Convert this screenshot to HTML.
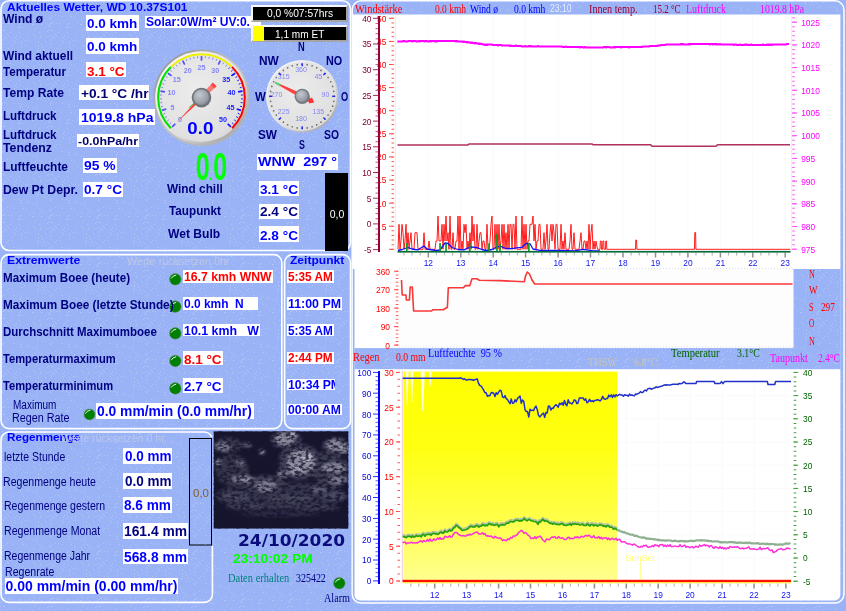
<!DOCTYPE html>
<html><head><meta charset="utf-8"><title>Aktuelles Wetter</title>
<style>
html,body{margin:0;padding:0;}
body{width:846px;height:611px;overflow:hidden;background:#99b3f6;font-family:"Liberation Sans", sans-serif;}
#root{position:relative;width:846px;height:611px;overflow:hidden;}
#root svg{position:absolute;left:0;top:0;}
#root svg text{font-family:"Liberation Sans", sans-serif;}
.t{position:absolute;white-space:nowrap;line-height:1;font-weight:bold;transform-origin:0 0;display:block;}
.b{position:absolute;}
.sf{font-family:"Liberation Serif", serif;}
.dj{font-family:"DejaVu Sans", "Liberation Sans", sans-serif;}
</style></head><body>
<div id="root">
<svg width="846" height="611" viewBox="0 0 846 611">
<defs><pattern id="dots" width="48" height="48" patternUnits="userSpaceOnUse"><rect x="15" y="37" width="1" height="1" fill="#aec6f2"/><rect x="23" y="38" width="1" height="1" fill="#a9c4f0"/><rect x="40" y="37" width="1" height="1" fill="#b3c3f5"/><rect x="38" y="0" width="1" height="1" fill="#a9c4f0"/><rect x="16" y="35" width="1" height="1" fill="#aec6f2"/><rect x="12" y="45" width="1" height="1" fill="#a9c4f0"/><rect x="34" y="35" width="1" height="1" fill="#a9c4f0"/><rect x="25" y="40" width="1" height="1" fill="#aec6f2"/><rect x="14" y="40" width="1" height="1" fill="#aec6f2"/><rect x="33" y="24" width="1" height="1" fill="#b3c3f5"/><rect x="42" y="4" width="1" height="1" fill="#aec6f2"/><rect x="37" y="2" width="1" height="1" fill="#b6c5f5"/><rect x="1" y="17" width="1" height="1" fill="#a9c4f0"/><rect x="38" y="46" width="1" height="1" fill="#a9c4f0"/><rect x="45" y="27" width="1" height="1" fill="#a9c4f0"/><rect x="46" y="36" width="1" height="1" fill="#a9c4f0"/><rect x="8" y="23" width="1" height="1" fill="#b3c3f5"/><rect x="2" y="8" width="1" height="1" fill="#a9c4f0"/><rect x="13" y="16" width="1" height="1" fill="#a9c4f0"/><rect x="40" y="19" width="1" height="1" fill="#a9c4f0"/><rect x="32" y="24" width="1" height="1" fill="#b6c5f5"/><rect x="34" y="37" width="1" height="1" fill="#a9c4f0"/><rect x="37" y="14" width="1" height="1" fill="#b6c5f5"/><rect x="43" y="1" width="1" height="1" fill="#b6c5f5"/><rect x="38" y="42" width="1" height="1" fill="#aec6f2"/><rect x="44" y="20" width="1" height="1" fill="#b3c3f5"/><rect x="45" y="41" width="1" height="1" fill="#aec6f2"/><rect x="40" y="36" width="1" height="1" fill="#b6c5f5"/><rect x="18" y="7" width="1" height="1" fill="#b3c3f5"/><rect x="30" y="40" width="1" height="1" fill="#a9c4f0"/><rect x="5" y="22" width="1" height="1" fill="#b3c3f5"/><rect x="26" y="9" width="1" height="1" fill="#b3c3f5"/><rect x="18" y="27" width="1" height="1" fill="#a9c4f0"/><rect x="7" y="2" width="1" height="1" fill="#b3c3f5"/><rect x="24" y="45" width="1" height="1" fill="#b6c5f5"/><rect x="35" y="17" width="1" height="1" fill="#aec6f2"/><rect x="2" y="19" width="1" height="1" fill="#b3c3f5"/><rect x="4" y="6" width="1" height="1" fill="#b3c3f5"/><rect x="12" y="26" width="1" height="1" fill="#b6c5f5"/><rect x="39" y="16" width="1" height="1" fill="#aec6f2"/><rect x="44" y="2" width="1" height="1" fill="#b6c5f5"/><rect x="20" y="23" width="1" height="1" fill="#aec6f2"/><rect x="24" y="24" width="1" height="1" fill="#a9c4f0"/><rect x="33" y="24" width="1" height="1" fill="#b3c3f5"/><rect x="39" y="32" width="1" height="1" fill="#b6c5f5"/><rect x="27" y="40" width="1" height="1" fill="#aec6f2"/><rect x="19" y="27" width="1" height="1" fill="#b6c5f5"/><rect x="33" y="19" width="1" height="1" fill="#b6c5f5"/><rect x="0" y="26" width="1" height="1" fill="#b6c5f5"/><rect x="1" y="24" width="1" height="1" fill="#aec6f2"/><rect x="3" y="40" width="1" height="1" fill="#b6c5f5"/><rect x="29" y="22" width="1" height="1" fill="#b6c5f5"/><rect x="38" y="45" width="1" height="1" fill="#b6c5f5"/><rect x="47" y="31" width="1" height="1" fill="#b3c3f5"/><rect x="37" y="3" width="1" height="1" fill="#b3c3f5"/><rect x="23" y="16" width="1" height="1" fill="#a9c4f0"/><rect x="19" y="37" width="1" height="1" fill="#b6c5f5"/><rect x="11" y="23" width="1" height="1" fill="#aec6f2"/><rect x="20" y="23" width="1" height="1" fill="#b6c5f5"/><rect x="19" y="24" width="1" height="1" fill="#b3c3f5"/><rect x="1" y="36" width="1" height="1" fill="#aec6f2"/><rect x="19" y="32" width="1" height="1" fill="#aec6f2"/><rect x="41" y="17" width="1" height="1" fill="#aec6f2"/><rect x="20" y="11" width="1" height="1" fill="#a9c4f0"/><rect x="41" y="44" width="1" height="1" fill="#b3c3f5"/><rect x="6" y="38" width="1" height="1" fill="#b6c5f5"/><rect x="21" y="43" width="1" height="1" fill="#aec6f2"/><rect x="28" y="10" width="1" height="1" fill="#b3c3f5"/><rect x="21" y="47" width="1" height="1" fill="#aec6f2"/><rect x="36" y="28" width="1" height="1" fill="#b6c5f5"/><rect x="14" y="7" width="1" height="1" fill="#b3c3f5"/><rect x="33" y="12" width="1" height="1" fill="#b6c5f5"/><rect x="36" y="11" width="1" height="1" fill="#b6c5f5"/><rect x="21" y="41" width="1" height="1" fill="#b3c3f5"/><rect x="39" y="22" width="1" height="1" fill="#aec6f2"/><rect x="26" y="18" width="1" height="1" fill="#b6c5f5"/><rect x="29" y="22" width="1" height="1" fill="#a9c4f0"/><rect x="18" y="26" width="1" height="1" fill="#a9c4f0"/><rect x="2" y="26" width="1" height="1" fill="#aec6f2"/><rect x="12" y="0" width="1" height="1" fill="#a9c4f0"/><rect x="39" y="32" width="1" height="1" fill="#a9c4f0"/><rect x="35" y="45" width="1" height="1" fill="#aec6f2"/><rect x="2" y="47" width="1" height="1" fill="#a9c4f0"/><rect x="42" y="47" width="1" height="1" fill="#b6c5f5"/><rect x="34" y="21" width="1" height="1" fill="#aec6f2"/><rect x="4" y="37" width="1" height="1" fill="#b6c5f5"/><rect x="7" y="15" width="1" height="1" fill="#b3c3f5"/><rect x="2" y="44" width="1" height="1" fill="#aec6f2"/><rect x="27" y="36" width="1" height="1" fill="#b3c3f5"/><rect x="0" y="30" width="1" height="1" fill="#b3c3f5"/><rect x="10" y="32" width="1" height="1" fill="#b6c5f5"/><rect x="15" y="42" width="1" height="1" fill="#b3c3f5"/><rect x="33" y="34" width="1" height="1" fill="#a9c4f0"/><rect x="3" y="39" width="1" height="1" fill="#b3c3f5"/><rect x="21" y="8" width="1" height="1" fill="#b6c5f5"/><rect x="34" y="30" width="1" height="1" fill="#b3c3f5"/><rect x="22" y="14" width="1" height="1" fill="#aec6f2"/><rect x="7" y="34" width="1" height="1" fill="#b3c3f5"/><rect x="10" y="15" width="1" height="1" fill="#b6c5f5"/><rect x="8" y="0" width="1" height="1" fill="#a9c4f0"/><rect x="40" y="36" width="1" height="1" fill="#a9c4f0"/><rect x="3" y="17" width="1" height="1" fill="#aec6f2"/><rect x="17" y="39" width="1" height="1" fill="#a9c4f0"/><rect x="3" y="30" width="1" height="1" fill="#b6c5f5"/><rect x="0" y="3" width="1" height="1" fill="#aec6f2"/><rect x="2" y="7" width="1" height="1" fill="#b3c3f5"/><rect x="4" y="30" width="1" height="1" fill="#b3c3f5"/><rect x="45" y="5" width="1" height="1" fill="#a9c4f0"/><rect x="20" y="10" width="1" height="1" fill="#b6c5f5"/><rect x="4" y="22" width="1" height="1" fill="#a9c4f0"/><rect x="41" y="24" width="1" height="1" fill="#b6c5f5"/><rect x="23" y="16" width="1" height="1" fill="#aec6f2"/><rect x="21" y="27" width="1" height="1" fill="#b3c3f5"/><rect x="8" y="35" width="1" height="1" fill="#b3c3f5"/><rect x="45" y="46" width="1" height="1" fill="#a9c4f0"/><rect x="5" y="36" width="1" height="1" fill="#aec6f2"/><rect x="2" y="23" width="1" height="1" fill="#a9c4f0"/><rect x="38" y="41" width="1" height="1" fill="#a9c4f0"/><rect x="40" y="2" width="1" height="1" fill="#a9c4f0"/><rect x="3" y="23" width="1" height="1" fill="#a9c4f0"/></pattern>
<radialGradient id="bez" cx="35%" cy="30%" r="80%"><stop offset="0" stop-color="#f4f4f4"/><stop offset="0.6" stop-color="#c8c8c8"/><stop offset="1" stop-color="#8c8c8c"/></radialGradient>
<radialGradient id="face" cx="42%" cy="40%" r="75%"><stop offset="0" stop-color="#ececec"/><stop offset="0.75" stop-color="#e0e0e0"/><stop offset="1" stop-color="#cecece"/></radialGradient>
<radialGradient id="hub" cx="40%" cy="35%" r="70%"><stop offset="0" stop-color="#c8ccd0"/><stop offset="0.6" stop-color="#8a8e92"/><stop offset="1" stop-color="#5c6064"/></radialGradient>
<radialGradient id="hub2" cx="40%" cy="35%" r="75%"><stop offset="0" stop-color="#c4c8d0"/><stop offset="0.7" stop-color="#9a9ea6"/><stop offset="1" stop-color="#7c8088"/></radialGradient>
<linearGradient id="bez1" x1="0.15" y1="0.1" x2="0.85" y2="0.9"><stop offset="0" stop-color="#9a9a9a"/><stop offset="0.5" stop-color="#c4c4c4"/><stop offset="1" stop-color="#b0b0b0"/></linearGradient>
<linearGradient id="bez2" x1="0.15" y1="0.1" x2="0.85" y2="0.9"><stop offset="0" stop-color="#f6f6f6"/><stop offset="0.6" stop-color="#e0e0e0"/><stop offset="1" stop-color="#a8a8a8"/></linearGradient>
<radialGradient id="led" cx="40%" cy="35%" r="70%"><stop offset="0" stop-color="#109010"/><stop offset="1" stop-color="#007800"/></radialGradient>
<linearGradient id="yel" x1="0" y1="0" x2="0" y2="1"><stop offset="0" stop-color="#ffff00"/><stop offset="0.35" stop-color="#ffff10"/><stop offset="0.7" stop-color="#ffff48"/><stop offset="1" stop-color="#ffff90"/></linearGradient>
<filter id="cl" x="0" y="0" width="100%" height="100%" color-interpolation-filters="sRGB"><feTurbulence type="fractalNoise" baseFrequency="0.22 0.35" numOctaves="2" seed="11"/><feColorMatrix type="matrix" values="0 0 0 0 0.09  0 0 0 0 0.08  0 0 0 0 0.18  4 0 0 0 -1.7"/></filter>
<filter id="blur" x="-20%" y="-20%" width="140%" height="140%"><feGaussianBlur stdDeviation="1.6"/></filter>
</defs>
<rect x="0" y="0" width="846" height="611" fill="#8ea8ee"/>
<rect x="0" y="0" width="846" height="611" fill="#99b3f6"/>
<rect x="0" y="0" width="846" height="611" fill="url(#dots)"/>
<rect x="1" y="0.8" width="349.5" height="249.7" rx="8" ry="8" fill="none" stroke="#fff" stroke-width="1.6"/>
<rect x="1" y="254.6" width="280.8" height="174.00000000000003" rx="8" ry="8" fill="none" stroke="#fff" stroke-width="1.6"/>
<rect x="284.6" y="254.6" width="65.89999999999998" height="174.00000000000003" rx="8" ry="8" fill="none" stroke="#fff" stroke-width="1.6"/>
<rect x="1" y="432" width="211.4" height="170.39999999999998" rx="8" ry="8" fill="none" stroke="#fff" stroke-width="1.6"/>
<rect x="352.2" y="0.8" width="491.8" height="602.3" rx="9" ry="9" fill="none" stroke="#fff" stroke-width="1.5"/>
<path d="M352.6 14.4 H840.4 V594.5 a6 6 0 0 1 -6 6 H360.4 a6 6 0 0 1 -6 -6 V269 H352.6 Z" fill="#fff"/>
<rect x="352.9" y="269" width="1.3" height="325" fill="#99b3f6"/>
<rect x="793.2" y="269" width="47.4" height="80" fill="#99b3f6"/>
<rect x="354.4" y="348.1" width="486.2" height="21.1" fill="#99b3f6"/>
<rect x="354.4" y="348.1" width="486.2" height="21.1" fill="url(#dots)"/>
<rect x="793.2" y="269" width="47.4" height="80" fill="url(#dots)"/>
<circle cx="175.3" cy="279.3" r="5.8" fill="#008000" stroke="#6a8a6a" stroke-width="0.5"/>
<path d="M171.4 278.1 q1 -2.4 4.4 -3" fill="none" stroke="#fff" stroke-width="0.9" stroke-linecap="round"/>
<circle cx="175.3" cy="306.6" r="5.8" fill="#008000" stroke="#6a8a6a" stroke-width="0.5"/>
<path d="M171.4 305.4 q1 -2.4 4.4 -3" fill="none" stroke="#fff" stroke-width="0.9" stroke-linecap="round"/>
<circle cx="175.3" cy="333.4" r="5.8" fill="#008000" stroke="#6a8a6a" stroke-width="0.5"/>
<path d="M171.4 332.2 q1 -2.4 4.4 -3" fill="none" stroke="#fff" stroke-width="0.9" stroke-linecap="round"/>
<circle cx="175.3" cy="361" r="5.8" fill="#008000" stroke="#6a8a6a" stroke-width="0.5"/>
<path d="M171.4 359.8 q1 -2.4 4.4 -3" fill="none" stroke="#fff" stroke-width="0.9" stroke-linecap="round"/>
<circle cx="175.3" cy="388.4" r="5.8" fill="#008000" stroke="#6a8a6a" stroke-width="0.5"/>
<path d="M171.4 387.2 q1 -2.4 4.4 -3" fill="none" stroke="#fff" stroke-width="0.9" stroke-linecap="round"/>
<circle cx="89.5" cy="414.4" r="5.5" fill="#008000" stroke="#6a8a6a" stroke-width="0.5"/>
<path d="M85.6 413.2 q1 -2.4 4.4 -3" fill="none" stroke="#fff" stroke-width="0.9" stroke-linecap="round"/>
<circle cx="339.3" cy="583.2" r="5.8" fill="#008000" stroke="#6a8a6a" stroke-width="0.5"/>
<path d="M335.4 582.0 q1 -2.4 4.4 -3" fill="none" stroke="#fff" stroke-width="0.9" stroke-linecap="round"/>
<rect x="211" y="437" width="2.6" height="109" fill="#99b3f6"/>
<rect x="189.5" y="438.5" width="22" height="106.5" fill="#99b3f6" stroke="#000" stroke-width="1"/>
<rect x="190" y="439" width="21" height="105.5" fill="url(#dots)"/>
<clipPath id="ccl"><rect x="213.5" y="431.2" width="135" height="97.5"/></clipPath>
<g clip-path="url(#ccl)">
<rect x="213.5" y="431.2" width="135" height="97.5" fill="#17152e"/>
<g filter="url(#blur)">
<ellipse cx="281" cy="496" rx="66" ry="14" fill="#35354e"/>
<ellipse cx="232" cy="470" rx="17" ry="16" fill="#34344c"/>
<ellipse cx="330" cy="470" rx="18" ry="20" fill="#3a3a52"/>
<ellipse cx="300" cy="462" rx="22" ry="18" fill="#3c3c54"/>
<ellipse cx="228" cy="445" rx="14" ry="8" fill="#36364e"/>
<ellipse cx="286" cy="440" rx="16" ry="9" fill="#3a3a52"/>
<ellipse cx="336" cy="446" rx="14" ry="9" fill="#3a3a52"/>
<ellipse cx="265" cy="484" rx="20" ry="9" fill="#3e3e56"/>
<ellipse cx="284.8" cy="439" rx="10" ry="6.5" fill="#8a8a9c"/>
<ellipse cx="292" cy="434.5" rx="5" ry="3" fill="#b0b0c0"/>
<ellipse cx="335.8" cy="445" rx="9.5" ry="6" fill="#85859a"/>
<ellipse cx="344" cy="449" rx="4" ry="4" fill="#a0a0b0"/>
<ellipse cx="301" cy="462" rx="14" ry="12" fill="#8c8c9e"/>
<ellipse cx="307" cy="458" rx="6" ry="5" fill="#b4b4c4"/>
<ellipse cx="296" cy="470" rx="7" ry="5" fill="#9a9aac"/>
<ellipse cx="223" cy="447" rx="8" ry="4.5" fill="#77778c"/>
<ellipse cx="218" cy="462" rx="3" ry="3" fill="#9090a4"/>
<ellipse cx="243" cy="479" rx="11" ry="3.5" fill="#8a8a9e"/>
<ellipse cx="266" cy="486" rx="11" ry="6" fill="#7c7c90"/>
<ellipse cx="283" cy="474" rx="6" ry="4" fill="#7a7a90"/>
<ellipse cx="334" cy="468" rx="12" ry="5" fill="#8a8a9e"/>
<ellipse cx="338" cy="480" rx="10" ry="4" fill="#77778c"/>
<ellipse cx="240" cy="463" rx="4" ry="2.5" fill="#707088"/>
<ellipse cx="262" cy="452" rx="3" ry="2.5" fill="#8a8aa0"/>
<ellipse cx="247" cy="445" rx="5" ry="3" fill="#555570"/>
<ellipse cx="318" cy="490" rx="9" ry="3" fill="#5c5c74"/>
<ellipse cx="236" cy="497" rx="14" ry="4" fill="#4a4a62"/>
<ellipse cx="290" cy="499" rx="22" ry="4" fill="#44445c"/>
<ellipse cx="335" cy="496" rx="12" ry="4" fill="#4c4c64"/>
<ellipse cx="250" cy="507" rx="25" ry="3" fill="#3c3c54"/>
<ellipse cx="315" cy="508" rx="25" ry="3" fill="#3a3a52"/>
<ellipse cx="280" cy="514" rx="40" ry="2.5" fill="#2e2e48"/>
</g>
<rect x="213.5" y="431.2" width="135" height="97.5" filter="url(#cl)" opacity="0.8"/>
</g>
<circle cx="201.5" cy="97.6" r="48.2" fill="url(#bez1)"/>
<circle cx="201.5" cy="97.6" r="46.3" fill="url(#bez2)"/>
<circle cx="201.5" cy="97.6" r="44.3" fill="url(#face)"/>
<path d="M170.88 128.22 A43.3 43.3 0 0 1 170.98 66.89" fill="none" stroke="#00e000" stroke-width="2"/>
<path d="M170.98 66.89 A43.3 43.3 0 0 1 232.02 66.89" fill="none" stroke="#f0f000" stroke-width="2"/>
<path d="M232.02 66.89 A43.3 43.3 0 0 1 232.12 128.22" fill="none" stroke="#ff0000" stroke-width="2"/>
<line x1="172.16" y1="126.94" x2="175.34" y2="123.76" stroke="#1010ff" stroke-width="1.7" opacity="0.7"/>
<line x1="169.52" y1="124.05" x2="171.06" y2="122.78" stroke="#1010ff" stroke-width="1" opacity="0.45"/>
<line x1="167.18" y1="120.93" x2="168.83" y2="119.80" stroke="#1010ff" stroke-width="1" opacity="0.45"/>
<line x1="165.13" y1="117.59" x2="166.89" y2="116.63" stroke="#1010ff" stroke-width="1" opacity="0.45"/>
<line x1="163.41" y1="114.08" x2="165.25" y2="113.29" stroke="#1010ff" stroke-width="1" opacity="0.45"/>
<line x1="162.03" y1="110.42" x2="166.31" y2="109.03" stroke="#1010ff" stroke-width="1.7" opacity="0.7"/>
<line x1="161.00" y1="106.65" x2="162.95" y2="106.22" stroke="#1010ff" stroke-width="1" opacity="0.45"/>
<line x1="160.33" y1="102.80" x2="162.31" y2="102.55" stroke="#1010ff" stroke-width="1" opacity="0.45"/>
<line x1="160.02" y1="98.90" x2="162.02" y2="98.84" stroke="#1010ff" stroke-width="1" opacity="0.45"/>
<line x1="160.08" y1="94.99" x2="162.08" y2="95.12" stroke="#1010ff" stroke-width="1" opacity="0.45"/>
<line x1="160.51" y1="91.11" x2="164.96" y2="91.81" stroke="#1010ff" stroke-width="1.7" opacity="0.7"/>
<line x1="161.30" y1="87.28" x2="163.24" y2="87.78" stroke="#1010ff" stroke-width="1" opacity="0.45"/>
<line x1="162.45" y1="83.54" x2="164.34" y2="84.22" stroke="#1010ff" stroke-width="1" opacity="0.45"/>
<line x1="163.95" y1="79.93" x2="165.76" y2="80.78" stroke="#1010ff" stroke-width="1" opacity="0.45"/>
<line x1="165.78" y1="76.47" x2="167.50" y2="77.49" stroke="#1010ff" stroke-width="1" opacity="0.45"/>
<line x1="167.93" y1="73.21" x2="171.57" y2="75.85" stroke="#1010ff" stroke-width="1.7" opacity="0.7"/>
<line x1="170.37" y1="70.16" x2="171.87" y2="71.48" stroke="#1010ff" stroke-width="1" opacity="0.45"/>
<line x1="173.09" y1="67.35" x2="174.46" y2="68.81" stroke="#1010ff" stroke-width="1" opacity="0.45"/>
<line x1="176.06" y1="64.81" x2="177.29" y2="66.39" stroke="#1010ff" stroke-width="1" opacity="0.45"/>
<line x1="179.26" y1="62.56" x2="180.33" y2="64.25" stroke="#1010ff" stroke-width="1" opacity="0.45"/>
<line x1="182.66" y1="60.62" x2="184.70" y2="64.63" stroke="#1010ff" stroke-width="1.7" opacity="0.7"/>
<line x1="186.22" y1="59.01" x2="186.96" y2="60.87" stroke="#1010ff" stroke-width="1" opacity="0.45"/>
<line x1="189.92" y1="57.75" x2="190.48" y2="59.67" stroke="#1010ff" stroke-width="1" opacity="0.45"/>
<line x1="193.72" y1="56.84" x2="194.10" y2="58.80" stroke="#1010ff" stroke-width="1" opacity="0.45"/>
<line x1="197.59" y1="56.28" x2="197.78" y2="58.28" stroke="#1010ff" stroke-width="1" opacity="0.45"/>
<line x1="201.50" y1="56.10" x2="201.50" y2="60.60" stroke="#1010ff" stroke-width="1.7" opacity="0.7"/>
<line x1="205.41" y1="56.28" x2="205.22" y2="58.28" stroke="#1010ff" stroke-width="1" opacity="0.45"/>
<line x1="209.28" y1="56.84" x2="208.90" y2="58.80" stroke="#1010ff" stroke-width="1" opacity="0.45"/>
<line x1="213.08" y1="57.75" x2="212.52" y2="59.67" stroke="#1010ff" stroke-width="1" opacity="0.45"/>
<line x1="216.78" y1="59.01" x2="216.04" y2="60.87" stroke="#1010ff" stroke-width="1" opacity="0.45"/>
<line x1="220.34" y1="60.62" x2="218.30" y2="64.63" stroke="#1010ff" stroke-width="1.7" opacity="0.7"/>
<line x1="223.74" y1="62.56" x2="222.67" y2="64.25" stroke="#1010ff" stroke-width="1" opacity="0.45"/>
<line x1="226.94" y1="64.81" x2="225.71" y2="66.39" stroke="#1010ff" stroke-width="1" opacity="0.45"/>
<line x1="229.91" y1="67.35" x2="228.54" y2="68.81" stroke="#1010ff" stroke-width="1" opacity="0.95"/>
<line x1="232.63" y1="70.16" x2="231.13" y2="71.48" stroke="#1010ff" stroke-width="1" opacity="0.95"/>
<line x1="235.07" y1="73.21" x2="231.43" y2="75.85" stroke="#1010ff" stroke-width="1.7" opacity="1"/>
<line x1="237.22" y1="76.47" x2="235.50" y2="77.49" stroke="#1010ff" stroke-width="1" opacity="0.95"/>
<line x1="239.05" y1="79.93" x2="237.24" y2="80.78" stroke="#1010ff" stroke-width="1" opacity="0.95"/>
<line x1="240.55" y1="83.54" x2="238.66" y2="84.22" stroke="#1010ff" stroke-width="1" opacity="0.95"/>
<line x1="241.70" y1="87.28" x2="239.76" y2="87.78" stroke="#1010ff" stroke-width="1" opacity="0.95"/>
<line x1="242.49" y1="91.11" x2="238.04" y2="91.81" stroke="#1010ff" stroke-width="1.7" opacity="1"/>
<line x1="242.92" y1="94.99" x2="240.92" y2="95.12" stroke="#1010ff" stroke-width="1" opacity="0.95"/>
<line x1="242.98" y1="98.90" x2="240.98" y2="98.84" stroke="#1010ff" stroke-width="1" opacity="0.95"/>
<line x1="242.67" y1="102.80" x2="240.69" y2="102.55" stroke="#1010ff" stroke-width="1" opacity="0.95"/>
<line x1="242.00" y1="106.65" x2="240.05" y2="106.22" stroke="#1010ff" stroke-width="1" opacity="0.95"/>
<line x1="240.97" y1="110.42" x2="236.69" y2="109.03" stroke="#1010ff" stroke-width="1.7" opacity="1"/>
<line x1="239.59" y1="114.08" x2="237.75" y2="113.29" stroke="#1010ff" stroke-width="1" opacity="0.95"/>
<line x1="237.87" y1="117.59" x2="236.11" y2="116.63" stroke="#1010ff" stroke-width="1" opacity="0.95"/>
<line x1="235.82" y1="120.93" x2="234.17" y2="119.80" stroke="#1010ff" stroke-width="1" opacity="0.95"/>
<line x1="233.48" y1="124.05" x2="231.94" y2="122.78" stroke="#1010ff" stroke-width="1" opacity="0.95"/>
<line x1="230.84" y1="126.94" x2="227.66" y2="123.76" stroke="#1010ff" stroke-width="1.7" opacity="1"/>
<text x="179.9" y="121.7" font-size="7.2" font-weight="bold" fill="#2020ff" opacity="0.5" text-anchor="middle">0</text>
<text x="172.5" y="109.5" font-size="7.2" font-weight="bold" fill="#2020ff" opacity="0.5" text-anchor="middle">5</text>
<text x="171.4" y="95.3" font-size="7.2" font-weight="bold" fill="#2020ff" opacity="0.5" text-anchor="middle">10</text>
<text x="176.8" y="82.2" font-size="7.2" font-weight="bold" fill="#2020ff" opacity="0.5" text-anchor="middle">15</text>
<text x="187.7" y="72.9" font-size="7.2" font-weight="bold" fill="#2020ff" opacity="0.5" text-anchor="middle">20</text>
<text x="201.5" y="69.6" font-size="7.2" font-weight="bold" fill="#2020ff" opacity="0.5" text-anchor="middle">25</text>
<text x="215.3" y="72.9" font-size="7.2" font-weight="bold" fill="#2020ff" opacity="0.5" text-anchor="middle">30</text>
<text x="226.2" y="82.2" font-size="7.2" font-weight="bold" fill="#2020ff" opacity="1" text-anchor="middle">35</text>
<text x="231.6" y="95.3" font-size="7.2" font-weight="bold" fill="#2020ff" opacity="1" text-anchor="middle">40</text>
<text x="230.5" y="109.5" font-size="7.2" font-weight="bold" fill="#2020ff" opacity="1" text-anchor="middle">45</text>
<text x="223.1" y="121.7" font-size="7.2" font-weight="bold" fill="#2020ff" opacity="1" text-anchor="middle">50</text>
<polygon points="177.10,122.00 200.44,96.54 202.56,98.66" fill="#ff3a3a"/>
<polygon points="199.87,95.97 212.81,82.75 216.35,86.29 203.13,99.23" fill="#ff7878"/>
<polygon points="210.69,84.87 212.96,82.47 216.63,86.14 214.23,88.41" fill="#ff4848"/>
<line x1="194.00" y1="102.83" x2="189.05" y2="107.78" stroke="#30c030" stroke-width="1"/>
<circle cx="201.5" cy="97.6" r="9.8" fill="#70747a"/>
<circle cx="201.2" cy="97.3" r="7.8" fill="url(#hub2)"/>
<text x="200.3" y="134.2" font-size="17" font-weight="bold" fill="#0000ff" text-anchor="middle" textLength="26" lengthAdjust="spacingAndGlyphs">0.0</text>
<circle cx="302.2" cy="96.3" r="36.2" fill="url(#bez2)"/>
<circle cx="302.2" cy="96.3" r="34.6" fill="url(#face)"/>
<circle cx="302.20" cy="64.30" r="0.85" fill="#6c6c6c"/>
<circle cx="307.21" cy="64.69" r="0.85" fill="#6c6c6c"/>
<circle cx="312.09" cy="65.87" r="0.85" fill="#6c6c6c"/>
<circle cx="316.73" cy="67.79" r="0.85" fill="#6c6c6c"/>
<circle cx="321.01" cy="70.41" r="0.85" fill="#6c6c6c"/>
<circle cx="324.83" cy="73.67" r="0.85" fill="#6c6c6c"/>
<circle cx="328.09" cy="77.49" r="0.85" fill="#6c6c6c"/>
<circle cx="330.71" cy="81.77" r="0.85" fill="#6c6c6c"/>
<circle cx="332.63" cy="86.41" r="0.85" fill="#6c6c6c"/>
<circle cx="333.81" cy="91.29" r="0.85" fill="#6c6c6c"/>
<circle cx="334.20" cy="96.30" r="0.85" fill="#6c6c6c"/>
<circle cx="333.81" cy="101.31" r="0.85" fill="#6c6c6c"/>
<circle cx="332.63" cy="106.19" r="0.85" fill="#6c6c6c"/>
<circle cx="330.71" cy="110.83" r="0.85" fill="#6c6c6c"/>
<circle cx="328.09" cy="115.11" r="0.85" fill="#6c6c6c"/>
<circle cx="324.83" cy="118.93" r="0.85" fill="#6c6c6c"/>
<circle cx="321.01" cy="122.19" r="0.85" fill="#6c6c6c"/>
<circle cx="316.73" cy="124.81" r="0.85" fill="#6c6c6c"/>
<circle cx="312.09" cy="126.73" r="0.85" fill="#6c6c6c"/>
<circle cx="307.21" cy="127.91" r="0.85" fill="#6c6c6c"/>
<circle cx="302.20" cy="128.30" r="0.85" fill="#6c6c6c"/>
<circle cx="297.19" cy="127.91" r="0.85" fill="#6c6c6c"/>
<circle cx="292.31" cy="126.73" r="0.85" fill="#6c6c6c"/>
<circle cx="287.67" cy="124.81" r="0.85" fill="#6c6c6c"/>
<circle cx="283.39" cy="122.19" r="0.85" fill="#6c6c6c"/>
<circle cx="279.57" cy="118.93" r="0.85" fill="#6c6c6c"/>
<circle cx="276.31" cy="115.11" r="0.85" fill="#6c6c6c"/>
<circle cx="273.69" cy="110.83" r="0.85" fill="#6c6c6c"/>
<circle cx="271.77" cy="106.19" r="0.85" fill="#6c6c6c"/>
<circle cx="270.59" cy="101.31" r="0.85" fill="#6c6c6c"/>
<circle cx="270.20" cy="96.30" r="0.85" fill="#6c6c6c"/>
<circle cx="270.59" cy="91.29" r="0.85" fill="#6c6c6c"/>
<circle cx="271.77" cy="86.41" r="0.85" fill="#6c6c6c"/>
<circle cx="273.69" cy="81.77" r="0.85" fill="#6c6c6c"/>
<circle cx="276.31" cy="77.49" r="0.85" fill="#6c6c6c"/>
<circle cx="279.57" cy="73.67" r="0.85" fill="#6c6c6c"/>
<circle cx="283.39" cy="70.41" r="0.85" fill="#6c6c6c"/>
<circle cx="287.67" cy="67.79" r="0.85" fill="#6c6c6c"/>
<circle cx="292.31" cy="65.87" r="0.85" fill="#6c6c6c"/>
<circle cx="297.19" cy="64.69" r="0.85" fill="#6c6c6c"/>
<line x1="302.20" y1="63.30" x2="302.20" y2="66.30" stroke="#2020ff" stroke-width="1.4"/>
<text x="301.0" y="72.2" font-size="7" fill="#3030ff" opacity="0.55" text-anchor="middle">360</text>
<line x1="325.53" y1="72.97" x2="323.41" y2="75.09" stroke="#2020ff" stroke-width="1.4"/>
<text x="318.3" y="79.4" font-size="7" fill="#3030ff" opacity="0.55" text-anchor="middle">45</text>
<line x1="335.20" y1="96.30" x2="332.20" y2="96.30" stroke="#2020ff" stroke-width="1.4"/>
<text x="325.5" y="96.7" font-size="7" fill="#3030ff" opacity="0.55" text-anchor="middle">90</text>
<line x1="325.53" y1="119.63" x2="323.41" y2="117.51" stroke="#2020ff" stroke-width="1.4"/>
<text x="318.3" y="114.0" font-size="7" fill="#3030ff" opacity="0.55" text-anchor="middle">135</text>
<line x1="302.20" y1="129.30" x2="302.20" y2="126.30" stroke="#2020ff" stroke-width="1.4"/>
<text x="301.0" y="121.2" font-size="7" fill="#3030ff" opacity="0.55" text-anchor="middle">180</text>
<line x1="278.87" y1="119.63" x2="280.99" y2="117.51" stroke="#2020ff" stroke-width="1.4"/>
<text x="283.7" y="114.0" font-size="7" fill="#3030ff" opacity="0.55" text-anchor="middle">225</text>
<line x1="269.20" y1="96.30" x2="272.20" y2="96.30" stroke="#2020ff" stroke-width="1.4"/>
<text x="276.5" y="96.7" font-size="7" fill="#3030ff" opacity="0.55" text-anchor="middle">270</text>
<line x1="278.87" y1="72.97" x2="280.99" y2="75.09" stroke="#2020ff" stroke-width="1.4"/>
<text x="283.7" y="79.4" font-size="7" fill="#3030ff" opacity="0.55" text-anchor="middle">315</text>
<polygon points="279.44,83.69 278.63,85.30 301.20,98.26 303.20,94.34" fill="#ff4040"/>
<polygon points="275.43,81.65 274.62,83.26 279.87,86.16 280.87,84.20" fill="#50d068"/>
<polygon points="303.11,94.52 311.13,98.60 311.85,97.18 314.23,102.43 308.58,103.59 309.31,102.17 301.29,98.08" fill="#ff3030"/>
<circle cx="302.2" cy="96.3" r="7.6" fill="#767a80"/>
<circle cx="301.9" cy="96.0" r="6" fill="url(#hub2)"/>
<text y="0" font-size="25" font-weight="bold" fill="#00ff00" transform="translate(0,180.2) scale(1,1.53)"><tspan x="195.8">0</tspan><tspan x="209.2" font-size="11">.</tspan><tspan x="213.2" font-size="25">0</tspan></text>
<line x1="428.3" y1="16" x2="428.3" y2="252" stroke="#fafafa" stroke-width="1"/>
<line x1="460.8" y1="16" x2="460.8" y2="252" stroke="#fafafa" stroke-width="1"/>
<line x1="493.2" y1="16" x2="493.2" y2="252" stroke="#fafafa" stroke-width="1"/>
<line x1="525.6" y1="16" x2="525.6" y2="252" stroke="#fafafa" stroke-width="1"/>
<line x1="558.1" y1="16" x2="558.1" y2="252" stroke="#fafafa" stroke-width="1"/>
<line x1="590.5" y1="16" x2="590.5" y2="252" stroke="#fafafa" stroke-width="1"/>
<line x1="623.0" y1="16" x2="623.0" y2="252" stroke="#fafafa" stroke-width="1"/>
<line x1="655.5" y1="16" x2="655.5" y2="252" stroke="#fafafa" stroke-width="1"/>
<line x1="687.9" y1="16" x2="687.9" y2="252" stroke="#fafafa" stroke-width="1"/>
<line x1="720.4" y1="16" x2="720.4" y2="252" stroke="#fafafa" stroke-width="1"/>
<line x1="752.8" y1="16" x2="752.8" y2="252" stroke="#fafafa" stroke-width="1"/>
<line x1="785.2" y1="16" x2="785.2" y2="252" stroke="#fafafa" stroke-width="1"/>
<line x1="373" y1="18.3" x2="378" y2="18.3" stroke="#993355" stroke-width="1"/>
<text x="371.5" y="21.7" font-size="8.4" fill="#800030" text-anchor="end">40</text>
<line x1="375.5" y1="23.4" x2="378" y2="23.4" stroke="#b06080" stroke-width="1"/>
<line x1="375.5" y1="28.6" x2="378" y2="28.6" stroke="#b06080" stroke-width="1"/>
<line x1="375.5" y1="33.7" x2="378" y2="33.7" stroke="#b06080" stroke-width="1"/>
<line x1="375.5" y1="38.9" x2="378" y2="38.9" stroke="#b06080" stroke-width="1"/>
<line x1="373" y1="44.0" x2="378" y2="44.0" stroke="#993355" stroke-width="1"/>
<text x="371.5" y="47.4" font-size="8.4" fill="#800030" text-anchor="end">35</text>
<line x1="375.5" y1="49.1" x2="378" y2="49.1" stroke="#b06080" stroke-width="1"/>
<line x1="375.5" y1="54.3" x2="378" y2="54.3" stroke="#b06080" stroke-width="1"/>
<line x1="375.5" y1="59.4" x2="378" y2="59.4" stroke="#b06080" stroke-width="1"/>
<line x1="375.5" y1="64.6" x2="378" y2="64.6" stroke="#b06080" stroke-width="1"/>
<line x1="373" y1="69.7" x2="378" y2="69.7" stroke="#993355" stroke-width="1"/>
<text x="371.5" y="73.1" font-size="8.4" fill="#800030" text-anchor="end">30</text>
<line x1="375.5" y1="74.8" x2="378" y2="74.8" stroke="#b06080" stroke-width="1"/>
<line x1="375.5" y1="80.0" x2="378" y2="80.0" stroke="#b06080" stroke-width="1"/>
<line x1="375.5" y1="85.1" x2="378" y2="85.1" stroke="#b06080" stroke-width="1"/>
<line x1="375.5" y1="90.3" x2="378" y2="90.3" stroke="#b06080" stroke-width="1"/>
<line x1="373" y1="95.4" x2="378" y2="95.4" stroke="#993355" stroke-width="1"/>
<text x="371.5" y="98.8" font-size="8.4" fill="#800030" text-anchor="end">25</text>
<line x1="375.5" y1="100.5" x2="378" y2="100.5" stroke="#b06080" stroke-width="1"/>
<line x1="375.5" y1="105.7" x2="378" y2="105.7" stroke="#b06080" stroke-width="1"/>
<line x1="375.5" y1="110.8" x2="378" y2="110.8" stroke="#b06080" stroke-width="1"/>
<line x1="375.5" y1="116.0" x2="378" y2="116.0" stroke="#b06080" stroke-width="1"/>
<line x1="373" y1="121.1" x2="378" y2="121.1" stroke="#993355" stroke-width="1"/>
<text x="371.5" y="124.5" font-size="8.4" fill="#800030" text-anchor="end">20</text>
<line x1="375.5" y1="126.2" x2="378" y2="126.2" stroke="#b06080" stroke-width="1"/>
<line x1="375.5" y1="131.4" x2="378" y2="131.4" stroke="#b06080" stroke-width="1"/>
<line x1="375.5" y1="136.5" x2="378" y2="136.5" stroke="#b06080" stroke-width="1"/>
<line x1="375.5" y1="141.7" x2="378" y2="141.7" stroke="#b06080" stroke-width="1"/>
<line x1="373" y1="146.8" x2="378" y2="146.8" stroke="#993355" stroke-width="1"/>
<text x="371.5" y="150.2" font-size="8.4" fill="#800030" text-anchor="end">15</text>
<line x1="375.5" y1="151.9" x2="378" y2="151.9" stroke="#b06080" stroke-width="1"/>
<line x1="375.5" y1="157.1" x2="378" y2="157.1" stroke="#b06080" stroke-width="1"/>
<line x1="375.5" y1="162.2" x2="378" y2="162.2" stroke="#b06080" stroke-width="1"/>
<line x1="375.5" y1="167.4" x2="378" y2="167.4" stroke="#b06080" stroke-width="1"/>
<line x1="373" y1="172.5" x2="378" y2="172.5" stroke="#993355" stroke-width="1"/>
<text x="371.5" y="175.9" font-size="8.4" fill="#800030" text-anchor="end">10</text>
<line x1="375.5" y1="177.6" x2="378" y2="177.6" stroke="#b06080" stroke-width="1"/>
<line x1="375.5" y1="182.8" x2="378" y2="182.8" stroke="#b06080" stroke-width="1"/>
<line x1="375.5" y1="187.9" x2="378" y2="187.9" stroke="#b06080" stroke-width="1"/>
<line x1="375.5" y1="193.1" x2="378" y2="193.1" stroke="#b06080" stroke-width="1"/>
<line x1="373" y1="198.2" x2="378" y2="198.2" stroke="#993355" stroke-width="1"/>
<text x="371.5" y="201.6" font-size="8.4" fill="#800030" text-anchor="end">5</text>
<line x1="375.5" y1="203.3" x2="378" y2="203.3" stroke="#b06080" stroke-width="1"/>
<line x1="375.5" y1="208.5" x2="378" y2="208.5" stroke="#b06080" stroke-width="1"/>
<line x1="375.5" y1="213.6" x2="378" y2="213.6" stroke="#b06080" stroke-width="1"/>
<line x1="375.5" y1="218.8" x2="378" y2="218.8" stroke="#b06080" stroke-width="1"/>
<line x1="373" y1="223.9" x2="378" y2="223.9" stroke="#993355" stroke-width="1"/>
<text x="371.5" y="227.3" font-size="8.4" fill="#800030" text-anchor="end">0</text>
<line x1="375.5" y1="229.0" x2="378" y2="229.0" stroke="#b06080" stroke-width="1"/>
<line x1="375.5" y1="234.2" x2="378" y2="234.2" stroke="#b06080" stroke-width="1"/>
<line x1="375.5" y1="239.3" x2="378" y2="239.3" stroke="#b06080" stroke-width="1"/>
<line x1="375.5" y1="244.5" x2="378" y2="244.5" stroke="#b06080" stroke-width="1"/>
<line x1="373" y1="249.6" x2="378" y2="249.6" stroke="#993355" stroke-width="1"/>
<text x="371.5" y="253.0" font-size="8.4" fill="#800030" text-anchor="end">-5</text>
<line x1="389" y1="18.3" x2="393" y2="18.3" stroke="#ff4040" stroke-width="1"/>
<text x="386.4" y="21.7" font-size="8.4" fill="#ff0000" text-anchor="end">50</text>
<line x1="389" y1="41.4" x2="393" y2="41.4" stroke="#ff4040" stroke-width="1"/>
<text x="386.4" y="44.8" font-size="8.4" fill="#ff0000" text-anchor="end">45</text>
<line x1="389" y1="64.5" x2="393" y2="64.5" stroke="#ff4040" stroke-width="1"/>
<text x="386.4" y="67.9" font-size="8.4" fill="#ff0000" text-anchor="end">40</text>
<line x1="389" y1="87.6" x2="393" y2="87.6" stroke="#ff4040" stroke-width="1"/>
<text x="386.4" y="91.0" font-size="8.4" fill="#ff0000" text-anchor="end">35</text>
<line x1="389" y1="110.7" x2="393" y2="110.7" stroke="#ff4040" stroke-width="1"/>
<text x="386.4" y="114.1" font-size="8.4" fill="#ff0000" text-anchor="end">30</text>
<line x1="389" y1="133.8" x2="393" y2="133.8" stroke="#ff4040" stroke-width="1"/>
<text x="386.4" y="137.2" font-size="8.4" fill="#ff0000" text-anchor="end">25</text>
<line x1="389" y1="156.9" x2="393" y2="156.9" stroke="#ff4040" stroke-width="1"/>
<text x="386.4" y="160.3" font-size="8.4" fill="#ff0000" text-anchor="end">20</text>
<line x1="389" y1="180.0" x2="393" y2="180.0" stroke="#ff4040" stroke-width="1"/>
<text x="386.4" y="183.4" font-size="8.4" fill="#ff0000" text-anchor="end">15</text>
<line x1="389" y1="203.1" x2="393" y2="203.1" stroke="#ff4040" stroke-width="1"/>
<text x="386.4" y="206.5" font-size="8.4" fill="#ff0000" text-anchor="end">10</text>
<line x1="389" y1="226.2" x2="393" y2="226.2" stroke="#ff4040" stroke-width="1"/>
<text x="386.4" y="229.6" font-size="8.4" fill="#ff0000" text-anchor="end">5</text>
<line x1="389" y1="249.3" x2="393" y2="249.3" stroke="#ff4040" stroke-width="1"/>
<line x1="392.8" y1="17.8" x2="392.8" y2="250" stroke="#ff5a5a" stroke-width="2.6" stroke-dasharray="1 3.62"/>
<line x1="395.3" y1="16" x2="395.3" y2="252" stroke="#e8f0e0" stroke-width="1"/>
<rect x="378" y="16" width="2" height="236" fill="#99003a"/>
<line x1="792.2" y1="22.2" x2="797" y2="22.2" stroke="#ff30ff" stroke-width="1"/>
<text x="801.2" y="25.6" font-size="8.4" fill="#ff00ff">1025</text>
<line x1="792.2" y1="44.9" x2="797" y2="44.9" stroke="#ff30ff" stroke-width="1"/>
<text x="801.2" y="48.3" font-size="8.4" fill="#ff00ff">1020</text>
<line x1="792.2" y1="67.6" x2="797" y2="67.6" stroke="#ff30ff" stroke-width="1"/>
<text x="801.2" y="71.0" font-size="8.4" fill="#ff00ff">1015</text>
<line x1="792.2" y1="90.3" x2="797" y2="90.3" stroke="#ff30ff" stroke-width="1"/>
<text x="801.2" y="93.7" font-size="8.4" fill="#ff00ff">1010</text>
<line x1="792.2" y1="113.0" x2="797" y2="113.0" stroke="#ff30ff" stroke-width="1"/>
<text x="801.2" y="116.4" font-size="8.4" fill="#ff00ff">1005</text>
<line x1="792.2" y1="135.7" x2="797" y2="135.7" stroke="#ff30ff" stroke-width="1"/>
<text x="801.2" y="139.1" font-size="8.4" fill="#ff00ff">1000</text>
<line x1="792.2" y1="158.4" x2="797" y2="158.4" stroke="#ff30ff" stroke-width="1"/>
<text x="801.2" y="161.8" font-size="8.4" fill="#ff00ff">995</text>
<line x1="792.2" y1="181.1" x2="797" y2="181.1" stroke="#ff30ff" stroke-width="1"/>
<text x="801.2" y="184.5" font-size="8.4" fill="#ff00ff">990</text>
<line x1="792.2" y1="203.8" x2="797" y2="203.8" stroke="#ff30ff" stroke-width="1"/>
<text x="801.2" y="207.2" font-size="8.4" fill="#ff00ff">985</text>
<line x1="792.2" y1="226.5" x2="797" y2="226.5" stroke="#ff30ff" stroke-width="1"/>
<text x="801.2" y="229.9" font-size="8.4" fill="#ff00ff">980</text>
<line x1="792.2" y1="249.2" x2="797" y2="249.2" stroke="#ff30ff" stroke-width="1"/>
<text x="801.2" y="252.6" font-size="8.4" fill="#ff00ff">975</text>
<line x1="793.5" y1="17.16" x2="793.5" y2="250" stroke="#ff50ff" stroke-width="2.6" stroke-dasharray="1 3.54"/>
<line x1="791.7" y1="16" x2="791.7" y2="252" stroke="#e8f0e0" stroke-width="1"/>
<line x1="404.0" y1="252.5" x2="404.0" y2="255.5" stroke="#b8b8b8" stroke-width="1.2"/>
<line x1="412.1" y1="252.5" x2="412.1" y2="255.5" stroke="#b8b8b8" stroke-width="1.2"/>
<line x1="420.2" y1="252.5" x2="420.2" y2="255.5" stroke="#b8b8b8" stroke-width="1.2"/>
<line x1="428.3" y1="252.5" x2="428.3" y2="257.5" stroke="#909090" stroke-width="1.5"/>
<line x1="436.4" y1="252.5" x2="436.4" y2="255.5" stroke="#b8b8b8" stroke-width="1.2"/>
<line x1="444.5" y1="252.5" x2="444.5" y2="255.5" stroke="#b8b8b8" stroke-width="1.2"/>
<line x1="452.6" y1="252.5" x2="452.6" y2="255.5" stroke="#b8b8b8" stroke-width="1.2"/>
<line x1="460.8" y1="252.5" x2="460.8" y2="257.5" stroke="#909090" stroke-width="1.5"/>
<line x1="468.9" y1="252.5" x2="468.9" y2="255.5" stroke="#b8b8b8" stroke-width="1.2"/>
<line x1="477.0" y1="252.5" x2="477.0" y2="255.5" stroke="#b8b8b8" stroke-width="1.2"/>
<line x1="485.1" y1="252.5" x2="485.1" y2="255.5" stroke="#b8b8b8" stroke-width="1.2"/>
<line x1="493.2" y1="252.5" x2="493.2" y2="257.5" stroke="#909090" stroke-width="1.5"/>
<line x1="501.3" y1="252.5" x2="501.3" y2="255.5" stroke="#b8b8b8" stroke-width="1.2"/>
<line x1="509.4" y1="252.5" x2="509.4" y2="255.5" stroke="#b8b8b8" stroke-width="1.2"/>
<line x1="517.5" y1="252.5" x2="517.5" y2="255.5" stroke="#b8b8b8" stroke-width="1.2"/>
<line x1="525.6" y1="252.5" x2="525.6" y2="257.5" stroke="#909090" stroke-width="1.5"/>
<line x1="533.8" y1="252.5" x2="533.8" y2="255.5" stroke="#b8b8b8" stroke-width="1.2"/>
<line x1="541.9" y1="252.5" x2="541.9" y2="255.5" stroke="#b8b8b8" stroke-width="1.2"/>
<line x1="550.0" y1="252.5" x2="550.0" y2="255.5" stroke="#b8b8b8" stroke-width="1.2"/>
<line x1="558.1" y1="252.5" x2="558.1" y2="257.5" stroke="#909090" stroke-width="1.5"/>
<line x1="566.2" y1="252.5" x2="566.2" y2="255.5" stroke="#b8b8b8" stroke-width="1.2"/>
<line x1="574.3" y1="252.5" x2="574.3" y2="255.5" stroke="#b8b8b8" stroke-width="1.2"/>
<line x1="582.4" y1="252.5" x2="582.4" y2="255.5" stroke="#b8b8b8" stroke-width="1.2"/>
<line x1="590.5" y1="252.5" x2="590.5" y2="257.5" stroke="#909090" stroke-width="1.5"/>
<line x1="598.7" y1="252.5" x2="598.7" y2="255.5" stroke="#b8b8b8" stroke-width="1.2"/>
<line x1="606.8" y1="252.5" x2="606.8" y2="255.5" stroke="#b8b8b8" stroke-width="1.2"/>
<line x1="614.9" y1="252.5" x2="614.9" y2="255.5" stroke="#b8b8b8" stroke-width="1.2"/>
<line x1="623.0" y1="252.5" x2="623.0" y2="257.5" stroke="#909090" stroke-width="1.5"/>
<line x1="631.1" y1="252.5" x2="631.1" y2="255.5" stroke="#b8b8b8" stroke-width="1.2"/>
<line x1="639.2" y1="252.5" x2="639.2" y2="255.5" stroke="#b8b8b8" stroke-width="1.2"/>
<line x1="647.3" y1="252.5" x2="647.3" y2="255.5" stroke="#b8b8b8" stroke-width="1.2"/>
<line x1="655.5" y1="252.5" x2="655.5" y2="257.5" stroke="#909090" stroke-width="1.5"/>
<line x1="663.6" y1="252.5" x2="663.6" y2="255.5" stroke="#b8b8b8" stroke-width="1.2"/>
<line x1="671.7" y1="252.5" x2="671.7" y2="255.5" stroke="#b8b8b8" stroke-width="1.2"/>
<line x1="679.8" y1="252.5" x2="679.8" y2="255.5" stroke="#b8b8b8" stroke-width="1.2"/>
<line x1="687.9" y1="252.5" x2="687.9" y2="257.5" stroke="#909090" stroke-width="1.5"/>
<line x1="696.0" y1="252.5" x2="696.0" y2="255.5" stroke="#b8b8b8" stroke-width="1.2"/>
<line x1="704.1" y1="252.5" x2="704.1" y2="255.5" stroke="#b8b8b8" stroke-width="1.2"/>
<line x1="712.2" y1="252.5" x2="712.2" y2="255.5" stroke="#b8b8b8" stroke-width="1.2"/>
<line x1="720.4" y1="252.5" x2="720.4" y2="257.5" stroke="#909090" stroke-width="1.5"/>
<line x1="728.5" y1="252.5" x2="728.5" y2="255.5" stroke="#b8b8b8" stroke-width="1.2"/>
<line x1="736.6" y1="252.5" x2="736.6" y2="255.5" stroke="#b8b8b8" stroke-width="1.2"/>
<line x1="744.7" y1="252.5" x2="744.7" y2="255.5" stroke="#b8b8b8" stroke-width="1.2"/>
<line x1="752.8" y1="252.5" x2="752.8" y2="257.5" stroke="#909090" stroke-width="1.5"/>
<line x1="760.9" y1="252.5" x2="760.9" y2="255.5" stroke="#b8b8b8" stroke-width="1.2"/>
<line x1="769.0" y1="252.5" x2="769.0" y2="255.5" stroke="#b8b8b8" stroke-width="1.2"/>
<line x1="777.1" y1="252.5" x2="777.1" y2="255.5" stroke="#b8b8b8" stroke-width="1.2"/>
<line x1="785.2" y1="252.5" x2="785.2" y2="257.5" stroke="#909090" stroke-width="1.5"/>
<text x="428.3" y="266.2" font-size="8.4" fill="#1414f0" text-anchor="middle">12</text>
<text x="460.8" y="266.2" font-size="8.4" fill="#1414f0" text-anchor="middle">13</text>
<text x="493.2" y="266.2" font-size="8.4" fill="#1414f0" text-anchor="middle">14</text>
<text x="525.6" y="266.2" font-size="8.4" fill="#1414f0" text-anchor="middle">15</text>
<text x="558.1" y="266.2" font-size="8.4" fill="#1414f0" text-anchor="middle">16</text>
<text x="590.5" y="266.2" font-size="8.4" fill="#1414f0" text-anchor="middle">17</text>
<text x="623.0" y="266.2" font-size="8.4" fill="#1414f0" text-anchor="middle">18</text>
<text x="655.5" y="266.2" font-size="8.4" fill="#1414f0" text-anchor="middle">19</text>
<text x="687.9" y="266.2" font-size="8.4" fill="#1414f0" text-anchor="middle">20</text>
<text x="720.4" y="266.2" font-size="8.4" fill="#1414f0" text-anchor="middle">21</text>
<text x="752.8" y="266.2" font-size="8.4" fill="#1414f0" text-anchor="middle">22</text>
<text x="785.2" y="266.2" font-size="8.4" fill="#1414f0" text-anchor="middle">23</text>
<polyline points="397.3,41.5 398.3,41.5 399.3,41.5 400.3,41.5 401.3,41.5 402.4,41.5 403.4,41.0 404.4,41.0 405.4,41.5 406.4,41.5 407.4,41.5 408.4,41.0 409.4,41.0 410.5,41.0 411.5,41.0 412.5,41.5 413.5,41.0 414.5,41.0 415.5,41.0 416.5,41.5 417.5,41.5 418.6,41.0 419.6,41.5 420.6,41.0 421.6,41.0 422.6,41.0 423.6,41.0 424.6,41.5 425.6,41.0 426.7,41.0 427.7,41.5 428.7,41.5 429.7,41.0 430.7,41.5 431.7,41.0 432.7,41.0 433.7,41.0 434.8,41.5 435.8,41.0 436.8,41.5 437.8,41.0 438.8,41.0 439.8,41.0 440.8,41.0 441.8,41.0 442.9,41.0 443.9,41.0 444.9,41.0 445.9,41.0 446.9,41.0 447.9,41.0 448.9,41.0 449.9,41.0 451.0,41.0 452.0,41.0 453.0,41.0 454.0,41.0 455.0,41.0 456.0,41.5 457.0,41.0 458.0,41.5 459.0,41.5 460.0,41.5 461.0,41.5 462.0,41.5 463.0,42.0 464.0,41.5 465.0,42.0 466.0,42.0 467.0,42.5 468.0,42.0 469.0,42.5 470.0,42.5 471.0,43.0 472.0,42.5 473.0,43.0 474.0,43.0 475.0,43.5 476.0,43.0 477.0,43.5 478.0,43.5 479.0,44.0 480.0,43.5 481.0,44.0 482.0,44.0 483.0,44.5 484.0,44.5 485.0,45.0 486.0,44.5 487.0,45.0 488.0,44.5 489.0,44.5 490.0,44.5 491.0,44.5 492.0,44.5 493.0,45.0 494.0,45.0 495.0,45.0 496.0,45.0 497.0,45.0 498.0,45.5 499.0,45.0 500.0,45.0 501.0,45.0 502.0,45.5 503.0,45.5 504.0,45.5 505.0,45.5 506.0,45.5 507.0,45.5 508.0,45.5 509.0,45.5 510.0,46.0 511.0,45.5 512.0,46.0 513.0,46.0 514.0,46.0 515.0,46.0 516.0,45.5 517.0,46.0 518.0,46.0 519.0,46.0 520.0,46.0 521.0,46.0 522.0,46.5 523.0,46.5 524.0,46.5 525.0,46.0 526.0,46.5 527.0,46.5 528.0,46.5 529.0,46.0 530.0,46.5 531.0,46.0 532.0,46.5 533.0,46.5 534.0,46.5 535.0,46.5 536.0,46.5 537.0,46.5 538.0,46.0 539.0,46.5 540.0,46.5 541.0,46.5 542.0,46.5 543.0,46.5 544.0,46.5 545.0,46.5 546.0,46.5 547.0,46.5 548.0,46.5 549.0,46.5 550.0,46.5 551.0,46.5 552.0,46.5 553.0,46.5 554.0,46.5 555.0,46.5 556.0,46.5 557.0,46.5 558.0,46.5 559.0,46.5 560.0,46.5 561.0,46.5 562.0,46.5 563.0,47.0 564.0,47.0 565.0,47.0 566.0,46.5 567.0,47.0 568.0,47.0 569.0,47.0 570.0,47.0 571.0,47.0 572.0,47.0 573.0,47.0 574.0,47.0 575.0,47.0 576.0,47.0 577.0,47.0 578.0,47.0 579.0,47.0 580.0,47.5 581.0,47.0 582.0,47.0 583.0,47.5 584.0,47.5 585.0,47.0 586.0,47.5 587.0,47.5 588.0,47.5 589.0,47.5 590.0,47.5 591.0,47.5 592.0,47.5 593.0,47.5 594.0,47.5 595.0,47.5 596.0,47.5 597.0,47.5 598.0,47.5 599.0,47.5 600.0,47.5 601.0,47.5 602.0,47.5 603.0,47.5 604.0,47.0 605.0,47.0 606.0,47.5 607.0,47.0 608.0,47.0 609.0,47.0 610.0,47.5 611.0,47.5 612.0,47.5 613.0,47.5 614.0,47.0 615.0,47.5 616.0,47.0 617.0,47.0 618.0,47.0 619.0,47.0 620.0,47.0 621.0,47.5 622.0,47.0 623.0,47.0 624.0,47.0 625.0,47.0 626.0,47.0 627.0,47.0 628.0,47.0 629.0,47.5 630.0,47.0 631.0,47.0 632.0,47.0 633.0,47.0 634.0,47.0 635.0,47.0 636.0,47.0 637.0,47.0 638.0,47.0 639.0,47.0 640.0,47.0 641.0,47.0 642.0,47.0 643.0,46.5 644.0,46.5 645.0,46.5 646.0,46.5 647.0,46.5 648.0,46.5 649.0,46.5 650.0,46.0 651.0,46.0 652.0,46.0 653.0,46.0 654.0,46.0 655.0,46.0 656.0,46.0 657.0,46.0 658.0,45.5 659.0,45.5 660.0,45.5 661.0,45.0 662.0,45.0 663.0,45.0 664.0,45.0 665.0,45.0 666.0,44.5 667.0,44.5 668.0,44.5 669.0,44.5 670.0,44.5 671.0,44.5 672.0,44.5 673.0,44.5 674.0,44.5 675.0,44.5 676.0,44.5 677.0,44.5 678.0,44.5 679.0,44.5 680.0,44.5 681.0,44.0 682.0,44.5 683.0,44.0 684.0,44.5 685.0,44.5 686.0,44.5 687.0,44.5 688.0,44.5 689.0,44.0 690.0,44.5 691.0,44.0 692.0,44.0 693.0,44.0 694.0,44.0 695.0,44.0 696.0,44.0 697.0,44.0 698.0,44.0 699.0,44.0 700.0,44.0 701.0,44.0 702.0,44.0 703.0,44.0 704.0,44.0 705.0,44.0 706.0,44.0 707.0,44.0 708.0,44.0 709.0,44.0 710.0,44.5 711.0,44.0 712.0,44.0 713.0,44.5 714.0,44.0 715.0,44.0 716.0,44.5 717.0,44.0 718.0,44.5 719.0,44.5 720.0,44.0 721.0,44.5 722.0,44.5 723.0,44.5 724.0,44.5 725.0,44.5 726.0,44.5 727.0,44.5 728.0,44.5 729.0,44.5 730.0,44.5 731.0,44.5 732.0,44.5 733.0,44.5 734.0,45.0 735.0,44.5 736.0,44.5 737.0,45.0 738.0,45.0 739.0,45.0 740.0,44.5 741.0,45.0 742.0,45.0 743.0,45.0 744.0,45.0 745.0,44.5 746.0,45.0 747.0,44.5 748.0,45.0 749.0,45.0 750.0,45.0 751.0,44.5 752.0,45.0 753.0,45.0 754.0,45.0 755.0,45.0 756.0,45.0 757.0,45.0 758.0,45.0 759.0,45.0 760.0,45.0 761.0,45.0 762.0,45.0 763.0,44.5 764.0,45.0 765.0,45.0 766.0,45.0 767.0,44.5 768.0,45.0 769.0,44.5 770.0,45.0 771.0,44.5 772.0,45.0 773.0,44.5 774.0,44.5 775.0,44.5 776.0,44.5 777.0,44.5 778.0,44.5 779.0,44.5 780.0,44.5 781.0,44.5 782.0,44.5 783.0,44.5 784.0,44.5 785.0,44.5 786.0,44.5 787.0,44.0 788.0,44.0 789.0,44.0" fill="none" stroke="#ff00ff" stroke-width="2" stroke-linejoin="round" />
<polyline points="397.5,145.1 468.0,145.1 469.0,143.9 592.0,143.9 593.0,144.8 650.7,144.8 652.0,146.3 716.0,146.3 717.5,144.8 790.0,144.8" fill="none" stroke="#b0305e" stroke-width="1.5" stroke-linejoin="round" />
<polyline points="398.0,249.3 399.0,224.3 400.0,249.3 401.0,241.0 402.0,224.3 403.0,232.7 404.0,249.3 405.0,241.0 406.0,224.3 407.0,249.3 408.0,232.7 409.0,249.3 410.0,241.0 411.0,232.7 412.0,249.3 413.0,249.3 414.0,249.3 415.0,232.7 416.0,232.7 417.0,232.7 418.0,249.3 419.0,249.3 420.0,249.3 421.0,249.3 422.0,249.3 423.0,249.3 424.0,232.7 425.0,249.3 426.0,249.3 427.0,249.3 428.0,249.3 429.0,241.0 430.0,249.3 431.0,249.3 432.0,249.3 433.0,249.3 434.0,249.3 435.0,249.3 436.0,241.0 437.0,241.0 438.0,216.0 439.0,241.0 440.0,241.0 441.0,241.0 442.0,224.3 443.0,249.3 444.0,224.3 445.0,241.0 446.0,216.0 447.0,241.0 448.0,232.7 449.0,249.3 450.0,216.0 451.0,249.3 452.0,249.3 453.0,232.7 454.0,249.3 455.0,249.3 456.0,241.0 457.0,241.0 458.0,216.0 459.0,249.3 460.0,216.0 461.0,249.3 462.0,241.0 463.0,249.3 464.0,224.3 465.0,232.7 466.0,224.3 467.0,249.3 468.0,241.0 469.0,249.3 470.0,232.7 471.0,249.3 472.0,216.0 473.0,241.0 474.0,224.3 475.0,249.3 476.0,249.3 477.0,224.3 478.0,249.3 479.0,241.0 480.0,232.7 481.0,232.7 482.0,249.3 483.0,241.0 484.0,241.0 485.0,249.3 486.0,249.3 487.0,224.3 488.0,249.3 489.0,249.3 490.0,241.0 491.0,224.3 492.0,216.0 493.0,249.3 494.0,249.3 495.0,224.3 496.0,249.3 497.0,224.3 498.0,249.3 499.0,224.3 500.0,249.3 501.0,241.0 502.0,224.3 503.0,249.3 504.0,224.3 505.0,249.3 506.0,232.7 507.0,249.3 508.0,224.3 509.0,249.3 510.0,224.3 511.0,224.3 512.0,249.3 513.0,224.3 514.0,224.3 515.0,249.3 516.0,216.0 517.0,249.3 518.0,249.3 519.0,249.3 520.0,249.3 521.0,249.3 522.0,216.0 523.0,249.3 524.0,224.3 525.0,249.3 526.0,224.3 527.0,249.3 528.0,241.0 529.0,241.0 530.0,224.3 531.0,224.3 532.0,224.3 533.0,216.0 534.0,241.0 535.0,224.3 536.0,249.3 537.0,241.0 538.0,241.0 539.0,224.3 540.0,224.3 541.0,249.3 542.0,249.3 543.0,249.3 544.0,232.7 545.0,249.3 546.0,241.0 547.0,224.3 548.0,249.3 549.0,249.3 550.0,232.7 551.0,224.3 552.0,241.0 553.0,224.3 554.0,232.7 555.0,249.3 556.0,224.3 557.0,224.3 558.0,249.3 559.0,249.3 560.0,249.3 561.0,224.3 562.0,249.3 563.0,241.0 564.0,249.3 565.0,232.7 566.0,249.3 567.0,249.3 568.0,249.3 569.0,249.3 570.0,241.0 571.0,224.3 572.0,249.3 573.0,249.3 574.0,232.7 575.0,249.3 576.0,249.3 577.0,249.3 578.0,249.3 579.0,249.3 580.0,241.0 581.0,232.7 582.0,249.3 583.0,249.3 584.0,241.0 585.0,241.0 586.0,249.3 587.0,241.0 588.0,249.3 589.0,224.3 590.0,249.3 591.0,232.7 592.0,224.3 593.0,249.3 594.0,241.0 595.0,249.3 596.0,241.0 597.5,249.3 600.0,249.3 600.3,241.0 601.2,241.0 601.5,249.3 602.6,249.3 602.9,241.0 603.8,241.0 604.0,249.3 605.5,249.3 605.8,241.0 606.5,241.0 606.8,249.3 635.5,249.3 635.8,240.0 636.6,240.0 636.9,249.3 694.5,249.3 694.8,232.5 695.6,232.5 695.9,249.3 790.4,249.3" fill="none" stroke="#ff1010" stroke-width="0.95" stroke-linejoin="round" />
<polyline points="398.0,250.5 402.0,249.5 408.0,247.5 412.0,249.0 418.0,249.8 424.0,246.0 427.0,249.0 436.0,250.5 440.0,250.0 445.0,243.0 448.0,243.5 452.0,247.5 458.0,249.5 464.0,249.8 470.0,247.0 476.0,247.3 482.0,249.5 486.0,250.5 492.0,249.5 496.0,247.5 500.0,246.2 506.0,248.5 512.0,248.7 518.0,247.7 522.0,247.3 526.0,243.5 530.0,243.7 533.0,249.0 540.0,250.3 560.0,250.5 575.0,250.8 583.0,249.3 592.0,250.7 600.0,251.0" fill="none" stroke="#1010ff" stroke-width="1.3" stroke-linejoin="round" />
<rect x="397.5" y="250.9" width="393" height="1.7" fill="#0a6a3a"/>
<rect x="405.9" y="243" width="1.7" height="8.0" fill="#109a20"/>
<rect x="439.2" y="243" width="1.7" height="8.0" fill="#109a20"/>
<rect x="445.2" y="243.5" width="1.7" height="7.5" fill="#109a20"/>
<rect x="468.9" y="243" width="1.7" height="8.0" fill="#109a20"/>
<rect x="488.2" y="243.5" width="1.7" height="7.5" fill="#109a20"/>
<rect x="496.1" y="234" width="1.7" height="17.0" fill="#109a20"/>
<rect x="499.2" y="243.5" width="1.7" height="7.5" fill="#109a20"/>
<rect x="528.0" y="243" width="1.7" height="8.0" fill="#109a20"/>
<rect x="399" y="269" width="394.4" height="79" fill="#fdfdfd"/>
<line x1="394" y1="271.2" x2="398.3" y2="271.2" stroke="#ff4040" stroke-width="1"/>
<text x="390" y="274.6" font-size="8.4" fill="#ff0000" text-anchor="end">360</text>
<line x1="394" y1="289.7" x2="398.3" y2="289.7" stroke="#ff4040" stroke-width="1"/>
<text x="390" y="293.1" font-size="8.4" fill="#ff0000" text-anchor="end">270</text>
<line x1="394" y1="308.1" x2="398.3" y2="308.1" stroke="#ff4040" stroke-width="1"/>
<text x="390" y="311.5" font-size="8.4" fill="#ff0000" text-anchor="end">180</text>
<line x1="394" y1="326.6" x2="398.3" y2="326.6" stroke="#ff4040" stroke-width="1"/>
<text x="390" y="330.0" font-size="8.4" fill="#ff0000" text-anchor="end">90</text>
<line x1="394" y1="345.1" x2="398.3" y2="345.1" stroke="#ff4040" stroke-width="1"/>
<text x="390" y="348.5" font-size="8.4" fill="#ff0000" text-anchor="end">0</text>
<line x1="397.1" y1="270.7" x2="397.1" y2="346" stroke="#ff5a5a" stroke-width="2.6" stroke-dasharray="1 2.695"/>
<line x1="399" y1="268.6" x2="793" y2="268.6" stroke="#d8dcf0" stroke-width="1" stroke-dasharray="1 2"/>
<line x1="399" y1="347" x2="793" y2="347" stroke="#d8dcf0" stroke-width="1" stroke-dasharray="1 2"/>
<polyline points="401.5,280.0 402.2,295.0 406.0,295.0 406.3,300.0 409.4,300.0 410.2,287.0 412.3,287.0 413.6,311.0 431.5,311.0 433.0,309.7 443.2,309.7 447.4,307.2 448.3,287.7 463.4,287.7 465.3,285.6 469.8,285.6 472.0,278.8 476.7,278.8 479.4,280.3 500.0,280.6 524.3,281.8 525.5,276.0 527.3,272.0 529.5,274.0 532.0,280.0 534.7,284.0 792.5,284.0" fill="none" stroke="#f83838" stroke-width="1.6" stroke-linejoin="round" />
<rect x="403.4" y="371.6" width="213.9" height="209" fill="url(#yel)"/>
<polygon points="405.7,371.5 408.7,371.5 407.59999999999997,405.8 406.8,405.8" fill="#fffff4" opacity="0.9"/>
<polygon points="410.4,371.5 413.4,371.5 412.29999999999995,401.7 411.5,401.7" fill="#fffff4" opacity="0.9"/>
<polygon points="420.5,371.5 424.9,371.5 423.09999999999997,411.2 422.3,411.2" fill="#fffff4" opacity="0.9"/>
<polygon points="428.8,371.5 431.8,371.5 430.7,385.4 429.90000000000003,385.4" fill="#fffff4" opacity="0.9"/>
<line x1="626.3" y1="372" x2="626.3" y2="580" stroke="#fafafa" stroke-width="1"/>
<line x1="658.2" y1="372" x2="658.2" y2="580" stroke="#fafafa" stroke-width="1"/>
<line x1="690.1" y1="372" x2="690.1" y2="580" stroke="#fafafa" stroke-width="1"/>
<line x1="722.1" y1="372" x2="722.1" y2="580" stroke="#fafafa" stroke-width="1"/>
<line x1="754.0" y1="372" x2="754.0" y2="580" stroke="#fafafa" stroke-width="1"/>
<line x1="785.9" y1="372" x2="785.9" y2="580" stroke="#fafafa" stroke-width="1"/>
<line x1="618" y1="395.6" x2="792" y2="395.6" stroke="#fafafa" stroke-width="1"/>
<line x1="618" y1="418.8" x2="792" y2="418.8" stroke="#fafafa" stroke-width="1"/>
<line x1="618" y1="442.0" x2="792" y2="442.0" stroke="#fafafa" stroke-width="1"/>
<line x1="618" y1="465.2" x2="792" y2="465.2" stroke="#fafafa" stroke-width="1"/>
<line x1="618" y1="488.4" x2="792" y2="488.4" stroke="#fafafa" stroke-width="1"/>
<line x1="618" y1="511.6" x2="792" y2="511.6" stroke="#fafafa" stroke-width="1"/>
<line x1="618" y1="534.8" x2="792" y2="534.8" stroke="#fafafa" stroke-width="1"/>
<line x1="618" y1="558.0" x2="792" y2="558.0" stroke="#fafafa" stroke-width="1"/>
<rect x="378" y="371" width="2" height="213" fill="#0000ff"/>
<line x1="373" y1="372.4" x2="378" y2="372.4" stroke="#3030ff" stroke-width="1"/>
<text x="371.3" y="375.8" font-size="8.4" fill="#0000e0" text-anchor="end">100</text>
<line x1="375.5" y1="376.6" x2="378" y2="376.6" stroke="#6060ff" stroke-width="1"/>
<line x1="375.5" y1="380.7" x2="378" y2="380.7" stroke="#6060ff" stroke-width="1"/>
<line x1="375.5" y1="384.9" x2="378" y2="384.9" stroke="#6060ff" stroke-width="1"/>
<line x1="375.5" y1="389.1" x2="378" y2="389.1" stroke="#6060ff" stroke-width="1"/>
<line x1="373" y1="393.2" x2="378" y2="393.2" stroke="#3030ff" stroke-width="1"/>
<text x="371.3" y="396.6" font-size="8.4" fill="#0000e0" text-anchor="end">90</text>
<line x1="375.5" y1="397.4" x2="378" y2="397.4" stroke="#6060ff" stroke-width="1"/>
<line x1="375.5" y1="401.6" x2="378" y2="401.6" stroke="#6060ff" stroke-width="1"/>
<line x1="375.5" y1="405.8" x2="378" y2="405.8" stroke="#6060ff" stroke-width="1"/>
<line x1="375.5" y1="409.9" x2="378" y2="409.9" stroke="#6060ff" stroke-width="1"/>
<line x1="373" y1="414.1" x2="378" y2="414.1" stroke="#3030ff" stroke-width="1"/>
<text x="371.3" y="417.5" font-size="8.4" fill="#0000e0" text-anchor="end">80</text>
<line x1="375.5" y1="418.3" x2="378" y2="418.3" stroke="#6060ff" stroke-width="1"/>
<line x1="375.5" y1="422.4" x2="378" y2="422.4" stroke="#6060ff" stroke-width="1"/>
<line x1="375.5" y1="426.6" x2="378" y2="426.6" stroke="#6060ff" stroke-width="1"/>
<line x1="375.5" y1="430.8" x2="378" y2="430.8" stroke="#6060ff" stroke-width="1"/>
<line x1="373" y1="434.9" x2="378" y2="434.9" stroke="#3030ff" stroke-width="1"/>
<text x="371.3" y="438.3" font-size="8.4" fill="#0000e0" text-anchor="end">70</text>
<line x1="375.5" y1="439.1" x2="378" y2="439.1" stroke="#6060ff" stroke-width="1"/>
<line x1="375.5" y1="443.3" x2="378" y2="443.3" stroke="#6060ff" stroke-width="1"/>
<line x1="375.5" y1="447.5" x2="378" y2="447.5" stroke="#6060ff" stroke-width="1"/>
<line x1="375.5" y1="451.6" x2="378" y2="451.6" stroke="#6060ff" stroke-width="1"/>
<line x1="373" y1="455.8" x2="378" y2="455.8" stroke="#3030ff" stroke-width="1"/>
<text x="371.3" y="459.2" font-size="8.4" fill="#0000e0" text-anchor="end">60</text>
<line x1="375.5" y1="460.0" x2="378" y2="460.0" stroke="#6060ff" stroke-width="1"/>
<line x1="375.5" y1="464.1" x2="378" y2="464.1" stroke="#6060ff" stroke-width="1"/>
<line x1="375.5" y1="468.3" x2="378" y2="468.3" stroke="#6060ff" stroke-width="1"/>
<line x1="375.5" y1="472.5" x2="378" y2="472.5" stroke="#6060ff" stroke-width="1"/>
<line x1="373" y1="476.6" x2="378" y2="476.6" stroke="#3030ff" stroke-width="1"/>
<text x="371.3" y="480.0" font-size="8.4" fill="#0000e0" text-anchor="end">50</text>
<line x1="375.5" y1="480.8" x2="378" y2="480.8" stroke="#6060ff" stroke-width="1"/>
<line x1="375.5" y1="485.0" x2="378" y2="485.0" stroke="#6060ff" stroke-width="1"/>
<line x1="375.5" y1="489.2" x2="378" y2="489.2" stroke="#6060ff" stroke-width="1"/>
<line x1="375.5" y1="493.3" x2="378" y2="493.3" stroke="#6060ff" stroke-width="1"/>
<line x1="373" y1="497.5" x2="378" y2="497.5" stroke="#3030ff" stroke-width="1"/>
<text x="371.3" y="500.9" font-size="8.4" fill="#0000e0" text-anchor="end">40</text>
<line x1="375.5" y1="501.7" x2="378" y2="501.7" stroke="#6060ff" stroke-width="1"/>
<line x1="375.5" y1="505.8" x2="378" y2="505.8" stroke="#6060ff" stroke-width="1"/>
<line x1="375.5" y1="510.0" x2="378" y2="510.0" stroke="#6060ff" stroke-width="1"/>
<line x1="375.5" y1="514.2" x2="378" y2="514.2" stroke="#6060ff" stroke-width="1"/>
<line x1="373" y1="518.4" x2="378" y2="518.4" stroke="#3030ff" stroke-width="1"/>
<text x="371.3" y="521.8" font-size="8.4" fill="#0000e0" text-anchor="end">30</text>
<line x1="375.5" y1="522.5" x2="378" y2="522.5" stroke="#6060ff" stroke-width="1"/>
<line x1="375.5" y1="526.7" x2="378" y2="526.7" stroke="#6060ff" stroke-width="1"/>
<line x1="375.5" y1="530.9" x2="378" y2="530.9" stroke="#6060ff" stroke-width="1"/>
<line x1="375.5" y1="535.0" x2="378" y2="535.0" stroke="#6060ff" stroke-width="1"/>
<line x1="373" y1="539.2" x2="378" y2="539.2" stroke="#3030ff" stroke-width="1"/>
<text x="371.3" y="542.6" font-size="8.4" fill="#0000e0" text-anchor="end">20</text>
<line x1="375.5" y1="543.4" x2="378" y2="543.4" stroke="#6060ff" stroke-width="1"/>
<line x1="375.5" y1="547.5" x2="378" y2="547.5" stroke="#6060ff" stroke-width="1"/>
<line x1="375.5" y1="551.7" x2="378" y2="551.7" stroke="#6060ff" stroke-width="1"/>
<line x1="375.5" y1="555.9" x2="378" y2="555.9" stroke="#6060ff" stroke-width="1"/>
<line x1="373" y1="560.0" x2="378" y2="560.0" stroke="#3030ff" stroke-width="1"/>
<text x="371.3" y="563.4" font-size="8.4" fill="#0000e0" text-anchor="end">10</text>
<line x1="375.5" y1="564.2" x2="378" y2="564.2" stroke="#6060ff" stroke-width="1"/>
<line x1="375.5" y1="568.4" x2="378" y2="568.4" stroke="#6060ff" stroke-width="1"/>
<line x1="375.5" y1="572.6" x2="378" y2="572.6" stroke="#6060ff" stroke-width="1"/>
<line x1="375.5" y1="576.7" x2="378" y2="576.7" stroke="#6060ff" stroke-width="1"/>
<line x1="373" y1="580.9" x2="378" y2="580.9" stroke="#3030ff" stroke-width="1"/>
<text x="371.3" y="584.3" font-size="8.4" fill="#0000e0" text-anchor="end">0</text>
<line x1="396" y1="372.4" x2="400" y2="372.4" stroke="#ff4040" stroke-width="1"/>
<text x="393.7" y="375.8" font-size="8.4" fill="#ff0000" text-anchor="end">30</text>
<line x1="396" y1="407.2" x2="400" y2="407.2" stroke="#ff4040" stroke-width="1"/>
<text x="393.7" y="410.6" font-size="8.4" fill="#ff0000" text-anchor="end">25</text>
<line x1="396" y1="441.9" x2="400" y2="441.9" stroke="#ff4040" stroke-width="1"/>
<text x="393.7" y="445.3" font-size="8.4" fill="#ff0000" text-anchor="end">20</text>
<line x1="396" y1="476.7" x2="400" y2="476.7" stroke="#ff4040" stroke-width="1"/>
<text x="393.7" y="480.1" font-size="8.4" fill="#ff0000" text-anchor="end">15</text>
<line x1="396" y1="511.5" x2="400" y2="511.5" stroke="#ff4040" stroke-width="1"/>
<text x="393.7" y="514.9" font-size="8.4" fill="#ff0000" text-anchor="end">10</text>
<line x1="396" y1="546.2" x2="400" y2="546.2" stroke="#ff4040" stroke-width="1"/>
<text x="393.7" y="549.6" font-size="8.4" fill="#ff0000" text-anchor="end">5</text>
<line x1="396" y1="581.0" x2="400" y2="581.0" stroke="#ff4040" stroke-width="1"/>
<text x="393.7" y="584.4" font-size="8.4" fill="#ff0000" text-anchor="end">0</text>
<line x1="398.8" y1="371.9" x2="398.8" y2="582" stroke="#ff5a5a" stroke-width="2.6" stroke-dasharray="1 5.954"/>
<line x1="402.3" y1="371" x2="402.3" y2="582" stroke="#f4c8d8" stroke-width="1"/>
<line x1="793.6" y1="372.4" x2="798.2" y2="372.4" stroke="#30a030" stroke-width="1"/>
<text x="803" y="375.8" font-size="8.4" fill="#006400">40</text>
<line x1="793.6" y1="395.6" x2="798.2" y2="395.6" stroke="#30a030" stroke-width="1"/>
<text x="803" y="399.0" font-size="8.4" fill="#006400">35</text>
<line x1="793.6" y1="418.8" x2="798.2" y2="418.8" stroke="#30a030" stroke-width="1"/>
<text x="803" y="422.2" font-size="8.4" fill="#006400">30</text>
<line x1="793.6" y1="442.0" x2="798.2" y2="442.0" stroke="#30a030" stroke-width="1"/>
<text x="803" y="445.4" font-size="8.4" fill="#006400">25</text>
<line x1="793.6" y1="465.2" x2="798.2" y2="465.2" stroke="#30a030" stroke-width="1"/>
<text x="803" y="468.6" font-size="8.4" fill="#006400">20</text>
<line x1="793.6" y1="488.4" x2="798.2" y2="488.4" stroke="#30a030" stroke-width="1"/>
<text x="803" y="491.8" font-size="8.4" fill="#006400">15</text>
<line x1="793.6" y1="511.6" x2="798.2" y2="511.6" stroke="#30a030" stroke-width="1"/>
<text x="803" y="515.0" font-size="8.4" fill="#006400">10</text>
<line x1="793.6" y1="534.8" x2="798.2" y2="534.8" stroke="#30a030" stroke-width="1"/>
<text x="803" y="538.2" font-size="8.4" fill="#006400">5</text>
<line x1="793.6" y1="558.0" x2="798.2" y2="558.0" stroke="#30a030" stroke-width="1"/>
<text x="803" y="561.4" font-size="8.4" fill="#006400">0</text>
<line x1="793.6" y1="581.2" x2="798.2" y2="581.2" stroke="#30a030" stroke-width="1"/>
<text x="803" y="584.6" font-size="8.4" fill="#006400">-5</text>
<line x1="795" y1="371.9" x2="795" y2="582" stroke="#40a040" stroke-width="2.6" stroke-dasharray="1 3.64"/>
<line x1="410.8" y1="583.5" x2="410.8" y2="586.5" stroke="#b8b8b8" stroke-width="1.2"/>
<line x1="418.7" y1="583.5" x2="418.7" y2="586.5" stroke="#b8b8b8" stroke-width="1.2"/>
<line x1="426.7" y1="583.5" x2="426.7" y2="586.5" stroke="#b8b8b8" stroke-width="1.2"/>
<line x1="434.7" y1="583.5" x2="434.7" y2="588.5" stroke="#909090" stroke-width="1.5"/>
<line x1="442.7" y1="583.5" x2="442.7" y2="586.5" stroke="#b8b8b8" stroke-width="1.2"/>
<line x1="450.7" y1="583.5" x2="450.7" y2="586.5" stroke="#b8b8b8" stroke-width="1.2"/>
<line x1="458.6" y1="583.5" x2="458.6" y2="586.5" stroke="#b8b8b8" stroke-width="1.2"/>
<line x1="466.6" y1="583.5" x2="466.6" y2="588.5" stroke="#909090" stroke-width="1.5"/>
<line x1="474.6" y1="583.5" x2="474.6" y2="586.5" stroke="#b8b8b8" stroke-width="1.2"/>
<line x1="482.6" y1="583.5" x2="482.6" y2="586.5" stroke="#b8b8b8" stroke-width="1.2"/>
<line x1="490.6" y1="583.5" x2="490.6" y2="586.5" stroke="#b8b8b8" stroke-width="1.2"/>
<line x1="498.6" y1="583.5" x2="498.6" y2="588.5" stroke="#909090" stroke-width="1.5"/>
<line x1="506.5" y1="583.5" x2="506.5" y2="586.5" stroke="#b8b8b8" stroke-width="1.2"/>
<line x1="514.5" y1="583.5" x2="514.5" y2="586.5" stroke="#b8b8b8" stroke-width="1.2"/>
<line x1="522.5" y1="583.5" x2="522.5" y2="586.5" stroke="#b8b8b8" stroke-width="1.2"/>
<line x1="530.5" y1="583.5" x2="530.5" y2="588.5" stroke="#909090" stroke-width="1.5"/>
<line x1="538.5" y1="583.5" x2="538.5" y2="586.5" stroke="#b8b8b8" stroke-width="1.2"/>
<line x1="546.5" y1="583.5" x2="546.5" y2="586.5" stroke="#b8b8b8" stroke-width="1.2"/>
<line x1="554.4" y1="583.5" x2="554.4" y2="586.5" stroke="#b8b8b8" stroke-width="1.2"/>
<line x1="562.4" y1="583.5" x2="562.4" y2="588.5" stroke="#909090" stroke-width="1.5"/>
<line x1="570.4" y1="583.5" x2="570.4" y2="586.5" stroke="#b8b8b8" stroke-width="1.2"/>
<line x1="578.4" y1="583.5" x2="578.4" y2="586.5" stroke="#b8b8b8" stroke-width="1.2"/>
<line x1="586.4" y1="583.5" x2="586.4" y2="586.5" stroke="#b8b8b8" stroke-width="1.2"/>
<line x1="594.4" y1="583.5" x2="594.4" y2="588.5" stroke="#909090" stroke-width="1.5"/>
<line x1="602.3" y1="583.5" x2="602.3" y2="586.5" stroke="#b8b8b8" stroke-width="1.2"/>
<line x1="610.3" y1="583.5" x2="610.3" y2="586.5" stroke="#b8b8b8" stroke-width="1.2"/>
<line x1="618.3" y1="583.5" x2="618.3" y2="586.5" stroke="#b8b8b8" stroke-width="1.2"/>
<line x1="626.3" y1="583.5" x2="626.3" y2="588.5" stroke="#909090" stroke-width="1.5"/>
<line x1="634.3" y1="583.5" x2="634.3" y2="586.5" stroke="#b8b8b8" stroke-width="1.2"/>
<line x1="642.2" y1="583.5" x2="642.2" y2="586.5" stroke="#b8b8b8" stroke-width="1.2"/>
<line x1="650.2" y1="583.5" x2="650.2" y2="586.5" stroke="#b8b8b8" stroke-width="1.2"/>
<line x1="658.2" y1="583.5" x2="658.2" y2="588.5" stroke="#909090" stroke-width="1.5"/>
<line x1="666.2" y1="583.5" x2="666.2" y2="586.5" stroke="#b8b8b8" stroke-width="1.2"/>
<line x1="674.2" y1="583.5" x2="674.2" y2="586.5" stroke="#b8b8b8" stroke-width="1.2"/>
<line x1="682.2" y1="583.5" x2="682.2" y2="586.5" stroke="#b8b8b8" stroke-width="1.2"/>
<line x1="690.1" y1="583.5" x2="690.1" y2="588.5" stroke="#909090" stroke-width="1.5"/>
<line x1="698.1" y1="583.5" x2="698.1" y2="586.5" stroke="#b8b8b8" stroke-width="1.2"/>
<line x1="706.1" y1="583.5" x2="706.1" y2="586.5" stroke="#b8b8b8" stroke-width="1.2"/>
<line x1="714.1" y1="583.5" x2="714.1" y2="586.5" stroke="#b8b8b8" stroke-width="1.2"/>
<line x1="722.1" y1="583.5" x2="722.1" y2="588.5" stroke="#909090" stroke-width="1.5"/>
<line x1="730.1" y1="583.5" x2="730.1" y2="586.5" stroke="#b8b8b8" stroke-width="1.2"/>
<line x1="738.0" y1="583.5" x2="738.0" y2="586.5" stroke="#b8b8b8" stroke-width="1.2"/>
<line x1="746.0" y1="583.5" x2="746.0" y2="586.5" stroke="#b8b8b8" stroke-width="1.2"/>
<line x1="754.0" y1="583.5" x2="754.0" y2="588.5" stroke="#909090" stroke-width="1.5"/>
<line x1="762.0" y1="583.5" x2="762.0" y2="586.5" stroke="#b8b8b8" stroke-width="1.2"/>
<line x1="770.0" y1="583.5" x2="770.0" y2="586.5" stroke="#b8b8b8" stroke-width="1.2"/>
<line x1="777.9" y1="583.5" x2="777.9" y2="586.5" stroke="#b8b8b8" stroke-width="1.2"/>
<line x1="785.9" y1="583.5" x2="785.9" y2="588.5" stroke="#909090" stroke-width="1.5"/>
<text x="434.7" y="597.8" font-size="8.4" fill="#1414f0" text-anchor="middle">12</text>
<text x="466.6" y="597.8" font-size="8.4" fill="#1414f0" text-anchor="middle">13</text>
<text x="498.6" y="597.8" font-size="8.4" fill="#1414f0" text-anchor="middle">14</text>
<text x="530.5" y="597.8" font-size="8.4" fill="#1414f0" text-anchor="middle">15</text>
<text x="562.4" y="597.8" font-size="8.4" fill="#1414f0" text-anchor="middle">16</text>
<text x="594.4" y="597.8" font-size="8.4" fill="#1414f0" text-anchor="middle">17</text>
<text x="626.3" y="597.8" font-size="8.4" fill="#1414f0" text-anchor="middle">18</text>
<text x="658.2" y="597.8" font-size="8.4" fill="#1414f0" text-anchor="middle">19</text>
<text x="690.1" y="597.8" font-size="8.4" fill="#1414f0" text-anchor="middle">20</text>
<text x="722.1" y="597.8" font-size="8.4" fill="#1414f0" text-anchor="middle">21</text>
<text x="754.0" y="597.8" font-size="8.4" fill="#1414f0" text-anchor="middle">22</text>
<text x="785.9" y="597.8" font-size="8.4" fill="#1414f0" text-anchor="middle">23</text>
<polyline points="402.6,378.3 403.8,378.3 405.0,378.3 406.2,378.3 407.5,378.3 408.7,378.3 409.9,378.3 411.1,378.3 412.3,378.3 413.5,378.3 414.7,378.3 415.9,378.3 417.2,378.3 418.4,378.3 419.6,378.3 420.8,378.3 422.0,378.3 423.2,378.3 424.4,378.3 425.6,378.3 426.9,378.3 428.1,378.3 429.3,378.3 430.5,378.3 431.7,378.3 432.9,378.3 434.1,378.3 435.3,378.3 436.6,378.3 437.8,378.3 439.0,378.3 440.2,378.3 441.4,378.3 442.6,378.3 443.8,378.3 445.0,378.3 446.2,378.3 447.5,378.3 448.7,378.3 449.9,378.3 451.1,378.3 452.3,378.3 453.5,378.3 454.7,378.3 455.9,378.3 457.2,378.3 458.4,378.3 459.6,378.3 460.8,377.8 462.1,378.6 463.4,379.4 464.7,378.8 466.0,380.0 467.2,380.0 468.4,379.5 469.7,379.5 470.9,379.7 472.1,379.6 473.3,380.4 474.6,379.8 475.8,379.4 477.0,378.8 478.3,382.6 479.6,385.4 480.9,385.8 482.2,387.7 483.5,389.8 484.8,392.4 486.1,392.7 487.4,396.2 488.7,395.6 489.9,395.7 491.2,392.8 492.4,392.5 493.7,393.3 495.0,396.6 496.2,392.8 497.5,394.1 498.7,392.1 500.0,390.2 501.2,390.8 502.5,396.9 503.8,397.6 505.0,395.6 506.2,398.7 507.5,399.5 508.8,401.9 510.0,403.7 511.2,399.0 512.5,403.4 513.8,402.9 515.0,399.7 516.2,401.8 517.5,398.4 518.8,397.3 520.0,396.0 521.3,403.3 522.5,399.9 523.8,401.4 525.0,409.6 526.3,411.6 527.5,411.6 528.8,417.0 530.0,409.3 531.2,410.5 532.4,410.1 533.6,410.6 534.8,407.7 536.0,406.1 537.2,409.4 538.5,415.3 539.8,416.9 541.0,415.5 542.2,414.0 543.5,413.0 544.7,417.4 545.9,412.6 547.1,413.0 548.4,406.1 549.6,406.3 550.8,410.0 552.0,408.1 553.2,408.4 554.5,406.2 555.8,404.7 557.0,405.6 558.2,407.2 559.5,403.2 560.8,404.5 562.0,402.7 563.2,405.3 564.5,400.5 565.7,404.3 566.9,405.7 568.2,399.8 569.4,403.0 570.6,403.0 571.9,404.0 573.1,402.1 574.3,399.9 575.6,400.5 576.8,403.6 578.0,403.0 579.3,398.1 580.5,398.0 581.8,398.1 583.1,398.0 584.4,400.2 585.7,398.9 587.0,402.7 588.2,401.8 589.5,399.3 590.8,401.5 592.1,400.6 593.4,401.6 594.7,400.4 596.0,400.3 597.3,399.8 598.7,400.1 600.0,401.0 601.3,399.6 602.7,396.4 604.0,398.8 605.2,399.3 606.4,398.6 607.6,398.5 608.8,395.1 610.0,396.7 611.3,394.9 612.5,397.5 613.7,394.9 614.9,396.8 616.1,394.7 617.3,396.0 618.5,395.0 619.7,394.3 621.0,395.1 622.2,394.9 623.4,396.2 624.6,394.8 625.8,395.2 627.1,395.3 628.3,396.2 629.5,394.1 630.7,395.3 632.0,395.0 633.2,395.5 634.4,395.8 635.6,394.0 636.8,394.3 638.0,393.5 639.2,393.1 640.4,391.6 641.7,392.6 642.9,392.4 644.1,390.7 645.3,390.1 646.5,391.0 647.7,388.9 648.9,388.5 650.1,388.3 651.3,389.2 652.5,388.8 653.7,388.0 654.9,388.0 656.1,386.8 657.4,387.5 658.6,386.9 659.8,386.7 661.0,386.2 662.2,386.0 663.4,385.4 664.6,384.8 665.8,385.2 667.0,384.7 668.2,385.1 669.5,385.1 670.7,384.9 671.9,384.5 673.1,384.2 674.4,384.2 675.6,384.2 676.8,384.2 678.0,384.4 679.2,383.4 680.5,383.7 681.7,383.6 684.0,381.8 686.0,383.6 687.2,383.6 688.5,383.6 689.8,383.6 691.0,383.6 692.2,383.6 693.5,383.6 694.8,383.6 696.0,383.6 696.5,381.6 697.8,381.6 699.0,381.6 700.3,381.6 701.6,381.6 702.8,381.6 704.1,381.6 705.4,381.6 706.6,381.6 707.9,381.6 709.1,381.6 710.4,381.6 711.7,381.6 712.9,381.6 714.2,381.6 715.0,383.6 716.2,383.6 717.5,383.6 718.8,383.6 720.0,383.6 721.5,381.6 723.0,383.6 724.5,381.6 725.7,381.6 727.0,381.6 728.2,381.6 729.4,381.6 730.6,381.6 731.9,381.6 733.1,381.6 734.3,381.6 735.5,381.6 736.8,381.6 738.0,381.6 739.2,381.6 740.4,381.6 741.7,381.6 742.9,381.6 744.1,381.6 745.3,381.6 746.6,381.6 747.8,381.6 749.0,381.6 750.2,381.6 751.5,381.6 752.7,381.6 753.9,381.6 755.1,381.6 756.4,381.6 757.6,381.6 758.8,381.6 760.0,381.6 761.3,381.6 762.5,381.6 763.7,381.6 764.9,381.6 766.2,381.6 767.4,381.6 768.0,384.5 769.4,384.5 770.7,384.5 772.1,384.5 773.4,384.5 774.8,384.5 775.5,381.6 776.8,381.6 778.1,381.6 779.4,381.6 780.7,381.6 782.0,381.6 783.2,381.6 784.5,381.6 785.8,381.6 787.1,381.6 788.4,381.6 789.7,381.6 791.0,381.6" fill="none" stroke="#2030c8" stroke-width="1.5" stroke-linejoin="round" />
<polyline points="402.6,534.8 403.8,534.9 405.1,535.4 406.3,536.0 407.6,534.6 408.8,534.5 410.1,534.6 411.3,535.7 412.5,534.2 413.8,535.4 415.0,535.1 416.3,533.8 417.5,534.6 418.8,534.3 420.0,534.1 421.2,535.2 422.5,533.0 423.8,532.7 425.0,534.5 426.2,533.1 427.5,532.5 428.8,532.6 430.0,532.5 431.2,533.6 432.5,531.8 433.8,531.6 435.0,532.2 436.2,532.0 437.5,532.7 438.8,532.2 440.0,531.0 441.2,530.3 442.4,531.4 443.6,531.5 444.8,529.1 446.0,530.3 447.2,530.3 448.4,529.5 449.6,528.3 450.8,529.3 452.0,528.8 453.3,526.3 454.7,525.9 456.0,523.7 457.2,524.1 458.4,525.5 459.6,526.3 460.8,527.3 462.0,528.6 463.3,528.5 464.7,528.3 466.0,527.8 467.3,527.4 468.7,526.4 470.0,524.9 471.2,524.5 472.5,525.3 473.8,525.0 475.0,525.2 476.2,523.8 477.5,523.9 478.8,525.4 480.0,524.5 481.2,524.5 482.5,522.9 483.8,523.3 485.0,524.2 486.2,523.4 487.5,523.9 488.8,521.9 490.0,522.2 491.2,523.2 492.5,522.7 493.8,523.7 495.0,523.4 496.2,522.7 497.5,522.9 498.8,525.1 500.0,523.5 501.2,523.1 502.5,522.9 503.8,523.3 505.0,523.1 506.2,521.7 507.5,521.3 508.8,521.4 510.0,519.8 511.3,519.9 512.7,520.2 514.0,520.1 515.3,518.6 516.7,518.6 518.0,518.5 519.3,519.4 520.5,518.9 521.8,519.1 523.0,518.3 524.3,516.8 525.6,518.3 527.0,519.2 528.3,518.2 529.7,517.8 531.0,519.0 532.4,519.3 533.8,519.6 535.2,519.8 536.6,520.5 538.0,522.6 539.2,519.9 540.5,520.3 541.8,518.5 543.0,517.6 544.4,519.6 545.8,519.1 547.2,519.4 548.6,520.6 550.0,521.7 551.2,521.5 552.5,522.5 553.8,521.6 555.0,522.1 556.2,522.7 557.5,522.3 558.8,523.1 560.0,522.7 561.2,522.0 562.5,522.0 563.8,523.4 565.0,523.3 566.2,523.8 567.5,523.2 568.8,523.0 570.0,522.1 571.2,523.6 572.5,522.0 573.8,522.6 575.0,522.0 576.2,522.5 577.5,522.4 578.8,522.6 580.0,523.3 581.2,523.0 582.5,522.4 583.8,523.6 585.0,523.6 586.2,523.8 587.5,522.1 588.8,523.5 590.0,524.2 591.2,522.8 592.5,522.8 593.8,524.2 595.0,523.3 596.2,523.4 597.5,524.4 598.8,523.5 600.0,523.1 601.2,523.3 602.4,523.8 603.7,524.7 604.9,524.2 606.1,525.2 607.3,523.8 608.6,524.4 609.8,525.4 611.0,525.3 612.3,525.9 613.5,527.5 614.8,526.7 616.0,527.2 617.3,528.5" fill="none" stroke="#b4c2a4" stroke-width="1.7" stroke-linejoin="round" />
<polyline points="402.6,536.5 403.8,536.6 405.1,537.1 406.3,537.7 407.6,536.3 408.8,536.2 410.1,536.3 411.3,537.4 412.5,535.9 413.8,537.1 415.0,536.8 416.3,535.5 417.5,536.3 418.8,536.0 420.0,535.8 421.2,536.9 422.5,534.7 423.8,534.4 425.0,536.2 426.2,534.8 427.5,534.2 428.8,534.3 430.0,534.2 431.2,535.3 432.5,533.5 433.8,533.3 435.0,533.9 436.2,533.7 437.5,534.4 438.8,533.9 440.0,532.7 441.2,532.0 442.4,533.1 443.6,533.2 444.8,530.8 446.0,532.0 447.2,532.0 448.4,531.2 449.6,530.0 450.8,531.0 452.0,530.5 453.3,528.0 454.7,527.6 456.0,525.4 457.2,525.8 458.4,527.2 459.6,528.0 460.8,529.0 462.0,530.3 463.3,530.2 464.7,530.0 466.0,529.5 467.3,529.1 468.7,528.1 470.0,526.6 471.2,526.2 472.5,527.0 473.8,526.7 475.0,526.9 476.2,525.5 477.5,525.6 478.8,527.1 480.0,526.2 481.2,526.2 482.5,524.6 483.8,525.0 485.0,525.9 486.2,525.1 487.5,525.6 488.8,523.6 490.0,523.9 491.2,524.9 492.5,524.4 493.8,525.4 495.0,525.1 496.2,524.4 497.5,524.6 498.8,526.8 500.0,525.2 501.2,524.8 502.5,524.6 503.8,525.0 505.0,524.8 506.2,523.4 507.5,523.0 508.8,523.1 510.0,521.5 511.3,521.6 512.7,521.9 514.0,521.8 515.3,520.3 516.7,520.3 518.0,520.2 519.3,521.1 520.5,520.6 521.8,520.8 523.0,520.0 524.3,518.5 525.6,520.0 527.0,520.9 528.3,519.9 529.7,519.5 531.0,520.7 532.4,521.0 533.8,521.3 535.2,521.5 536.6,522.2 538.0,524.3 539.2,521.6 540.5,522.0 541.8,520.2 543.0,519.3 544.4,521.3 545.8,520.8 547.2,521.1 548.6,522.3 550.0,523.4 551.2,523.2 552.5,524.2 553.8,523.3 555.0,523.8 556.2,524.4 557.5,524.0 558.8,524.8 560.0,524.4 561.2,523.7 562.5,523.7 563.8,525.1 565.0,525.0 566.2,525.5 567.5,524.9 568.8,524.7 570.0,523.8 571.2,525.3 572.5,523.7 573.8,524.3 575.0,523.7 576.2,524.2 577.5,524.1 578.8,524.3 580.0,525.0 581.2,524.7 582.5,524.1 583.8,525.3 585.0,525.3 586.2,525.5 587.5,523.8 588.8,525.2 590.0,525.9 591.2,524.5 592.5,524.5 593.8,525.9 595.0,525.0 596.2,525.1 597.5,526.1 598.8,525.2 600.0,524.8 601.2,525.0 602.4,525.5 603.7,526.4 604.9,525.9 606.1,526.9 607.3,525.5 608.6,526.1 609.8,527.1 611.0,527.0 612.3,527.6 613.5,529.2 614.8,528.4 616.0,528.9 617.3,530.2" fill="none" stroke="#22a012" stroke-width="1.7" stroke-linejoin="round" />
<polyline points="617.3,529.9 618.5,530.4 619.7,530.8 621.0,531.6 622.2,531.7 623.4,532.3 624.6,532.2 625.8,532.9 627.1,533.5 628.3,533.7 629.5,534.4 630.7,534.7 632.0,534.7 633.2,534.9 634.4,535.8 635.6,535.6 636.8,535.8 638.0,536.6 639.3,537.0 640.5,537.3 641.7,537.6 642.9,537.4 644.1,537.6 645.4,537.9 646.6,538.8 647.8,538.4 649.0,538.8 650.2,538.8 651.5,538.9 652.7,539.0 653.9,539.4 655.2,539.3 656.4,539.6 657.6,540.1 658.8,539.7 660.1,540.3 661.3,540.3 662.5,540.3 663.8,540.4 665.0,540.7 666.3,540.6 667.5,540.4 668.8,540.5 670.0,540.5 671.3,540.7 672.5,541.2 673.8,540.8 675.0,540.6 676.3,541.0 677.6,541.3 678.8,541.1 680.1,541.3 681.3,540.9 682.6,541.0 683.8,541.4 685.1,541.1 686.3,541.3 687.6,541.4 688.9,541.1 690.2,540.8 691.5,540.7 692.8,541.1 694.2,540.8 695.5,540.8 696.8,540.3 698.1,540.5 699.4,540.3 700.6,540.2 701.8,540.3 703.0,540.4 704.2,540.3 705.5,540.5 706.7,540.9 707.9,540.6 709.1,541.2 710.3,541.1 711.5,541.2 712.7,541.5 713.9,541.5 715.2,541.3 716.4,541.5 717.6,541.4 718.8,541.6 720.0,542.3 721.2,542.1 722.4,542.4 723.6,542.3 724.8,542.0 726.0,542.5 727.2,542.5 728.4,542.2 729.6,542.0 730.8,542.2 732.0,542.2 733.2,542.3 734.4,542.2 735.6,542.7 736.8,542.9 738.0,542.4 739.2,542.8 740.4,542.7 741.6,542.7 742.8,543.0 744.0,542.7 745.2,543.1 746.4,542.6 747.6,543.2 748.8,542.7 750.0,542.7 751.2,543.3 752.5,543.3 753.7,543.3 754.9,543.5 756.1,543.3 757.4,543.1 758.6,543.4 759.8,543.9 761.0,544.0 762.3,543.5 763.5,543.7 764.7,543.8 765.9,544.2 767.2,543.6 768.4,544.3 769.6,543.9 770.8,544.2 772.1,544.0 773.3,544.0 774.5,544.6 775.8,544.4 777.0,544.7 778.3,544.7 779.5,544.6 780.8,544.2 782.0,544.6 783.2,544.6 784.4,544.1 785.6,543.6 786.9,543.4 788.1,543.8 789.3,543.5 790.5,543.0" fill="none" stroke="#8fb090" stroke-width="2.2" stroke-linejoin="round" />
<polyline points="402.6,542.7 403.8,542.2 405.1,542.0 406.3,543.9 407.6,542.9 408.8,543.1 410.1,542.7 411.3,542.2 412.5,543.0 413.8,542.6 415.0,543.0 416.3,542.6 417.5,543.0 418.8,541.9 420.0,541.1 421.2,540.9 422.5,542.1 423.8,540.5 425.0,541.5 426.2,541.2 427.5,539.5 428.8,541.2 430.0,539.0 431.2,541.0 432.5,540.7 433.8,538.9 435.0,540.0 436.2,539.8 437.5,538.0 438.8,539.2 440.0,537.5 441.2,539.3 442.4,538.5 443.6,539.0 444.8,536.3 446.0,536.8 447.2,537.3 448.4,537.0 449.6,535.7 450.8,537.3 452.0,536.9 453.3,534.2 454.7,532.4 456.0,532.4 457.2,532.8 458.4,534.4 459.6,535.0 460.8,535.7 462.0,535.8 463.3,535.6 464.7,535.9 466.0,536.1 467.3,534.8 468.7,535.1 470.0,534.1 471.2,534.9 472.5,534.2 473.8,533.2 475.0,532.6 476.2,532.2 477.5,532.1 478.8,534.1 480.0,534.0 481.2,534.0 482.5,532.7 483.8,534.5 485.0,533.5 486.2,535.9 487.5,535.7 488.8,536.3 490.0,536.3 491.2,536.0 492.5,537.4 493.8,538.0 495.0,536.3 496.2,537.1 497.5,538.1 498.8,538.2 500.0,537.8 501.2,538.6 502.5,540.7 503.8,539.7 505.0,540.2 506.4,540.7 507.8,538.8 509.2,539.6 510.6,537.3 512.0,538.1 513.3,535.9 514.7,536.4 516.0,535.3 517.4,534.5 518.7,532.3 520.1,531.4 521.4,530.3 522.7,531.4 524.0,533.3 525.4,532.5 526.7,533.6 528.0,535.2 529.5,536.1 531.0,538.6 532.3,537.9 533.6,538.6 534.9,536.7 536.1,538.6 537.4,537.1 538.7,537.0 540.0,536.1 541.2,537.2 542.5,539.7 543.8,540.8 545.0,541.8 546.4,539.0 547.8,539.6 549.2,539.7 550.6,538.2 552.0,537.0 553.3,537.5 554.6,536.5 555.9,538.0 557.2,538.3 558.5,536.6 559.8,537.9 561.1,538.3 562.4,537.8 563.7,538.8 565.0,539.6 566.2,539.4 567.5,537.8 568.8,537.2 570.0,538.9 571.2,538.2 572.5,538.6 573.8,538.6 575.0,536.9 576.2,537.6 577.5,536.7 578.8,537.9 580.0,537.5 581.2,536.2 582.5,536.8 583.8,536.9 585.0,535.8 586.2,535.5 587.5,536.2 588.8,535.0 590.0,536.0 591.2,537.4 592.5,537.3 593.8,535.6 595.0,537.8 596.2,537.8 597.5,538.0 598.8,536.5 600.0,538.7 601.2,537.3 602.5,539.0 603.7,537.9 604.9,538.1 606.2,537.7 607.4,539.6 608.6,538.0 609.9,539.8 611.1,539.0 612.4,538.2 613.6,539.6 614.8,539.4 616.1,538.2 617.3,540.3 618.5,539.4 619.8,539.3 621.0,541.7 622.3,542.1 623.5,541.7 624.8,541.7 626.0,543.1 627.3,543.5 628.5,544.1 629.8,543.9 631.1,544.4 632.4,545.2 633.6,544.1 634.9,544.4 636.2,545.5 637.5,546.5 638.7,547.0 640.0,547.4 641.2,546.3 642.5,546.9 643.8,545.3 645.0,546.0 646.2,545.1 647.5,547.0 648.8,547.4 650.0,546.5 651.2,546.7 652.5,545.6 653.8,546.6 655.0,544.7 656.2,545.4 657.5,545.3 658.8,546.6 660.0,544.7 661.2,544.7 662.5,544.5 663.8,546.4 665.0,545.0 666.2,546.6 667.5,545.0 668.8,546.3 670.0,544.7 671.2,546.5 672.5,546.6 673.8,546.4 675.0,545.9 676.2,546.4 677.5,546.4 678.8,546.5 680.0,544.7 681.2,546.4 682.5,546.4 683.7,545.5 684.9,545.2 686.1,547.3 687.4,546.4 688.6,546.7 689.8,547.8 691.0,547.0 692.3,546.6 693.5,547.9 694.7,547.1 695.9,546.1 697.1,546.9 698.4,547.1 699.6,545.0 700.8,546.2 702.0,545.7 703.2,545.3 704.4,544.6 705.6,546.0 706.8,545.2 708.0,545.4 709.2,547.1 710.4,545.8 711.6,545.5 712.8,547.7 714.0,548.3 715.2,546.7 716.4,547.2 717.6,547.7 718.8,548.5 720.0,546.7 721.2,548.4 722.5,547.2 723.8,549.0 725.0,547.7 726.2,549.0 727.5,547.7 728.8,548.2 730.0,546.5 731.2,546.9 732.5,547.2 733.8,547.3 735.0,546.8 736.2,547.4 737.5,546.5 738.8,547.7 740.0,548.7 741.2,548.5 742.5,547.9 743.8,548.9 745.0,548.3 746.2,548.2 747.5,547.8 748.8,546.9 750.0,549.0 751.2,549.1 752.5,548.9 753.8,548.7 755.0,549.1 756.2,549.5 757.5,549.6 758.8,549.1 760.0,547.2 761.3,549.7 762.7,548.8 764.0,548.6 765.3,548.7 766.7,548.3 768.0,547.8 769.3,549.9 770.6,550.6 772.0,549.8 773.3,552.6 774.6,552.0 776.0,551.4 777.3,550.1 778.7,549.2 780.0,548.9 781.4,548.5 782.8,549.8 784.2,549.5 785.6,549.2 787.0,548.1 788.8,548.5 790.5,549.0" fill="none" stroke="#ff30d8" stroke-width="1.5" stroke-linejoin="round" />
<line x1="640.3" y1="561" x2="640.3" y2="580" stroke="#ffff80" stroke-width="1"/>
<text x="625.5" y="561" font-size="9" fill="#ffff70" textLength="29.5" lengthAdjust="spacingAndGlyphs">SunSet</text>
<rect x="402.6" y="579.8" width="388.5" height="2.4" fill="#ff1000"/>
<rect x="402.6" y="582.2" width="388.5" height="1.1" fill="#ffe838"/>
</svg>
<div class="b" style="left:86.0px;top:15.1px;width:52.9px;height:15.6px;background:#fff;"></div>
<div class="b" style="left:145.0px;top:16.0px;width:115.6px;height:12.4px;background:#fff;"></div>
<div class="b" style="left:86.0px;top:38.1px;width:52.9px;height:15.7px;background:#fff;"></div>
<div class="b" style="left:85.6px;top:62.4px;width:40.1px;height:15.1px;background:#fff;"></div>
<div class="b" style="left:79.2px;top:84.9px;width:70.0px;height:15.2px;background:#fff;"></div>
<div class="b" style="left:79.2px;top:109.2px;width:75.4px;height:15.7px;background:#fff;"></div>
<div class="b" style="left:77.0px;top:134.0px;width:61.8px;height:12.6px;background:#fff;"></div>
<div class="b" style="left:83.0px;top:157.5px;width:33.6px;height:15.1px;background:#fff;"></div>
<div class="b" style="left:83.0px;top:181.6px;width:40.3px;height:15.4px;background:#fff;"></div>
<div class="b" style="left:251.4px;top:4.5px;width:96.4px;height:17.9px;background:#000;box-sizing:border-box;border:2px solid;border-color:#f6f6fb #a4a4a4 #a4a4a4 #f6f6fb;"></div>
<div class="b" style="left:251.4px;top:24.6px;width:96.4px;height:17.7px;background:#000;box-sizing:border-box;border:2px solid;border-color:#f6f6fb #a4a4a4 #a4a4a4 #f6f6fb;"></div>
<div class="b" style="left:253.0px;top:26.2px;width:11.0px;height:14.5px;background:#ffff00;"></div>
<div class="b" style="left:256.8px;top:154.0px;width:81.2px;height:16.0px;background:#fff;"></div>
<div class="b" style="left:259.0px;top:181.0px;width:40.0px;height:14.7px;background:#fff;"></div>
<div class="b" style="left:259.0px;top:203.7px;width:40.0px;height:15.0px;background:#fff;"></div>
<div class="b" style="left:259.0px;top:226.1px;width:40.0px;height:16.2px;background:#fff;"></div>
<div class="b" style="left:325.0px;top:172.9px;width:23.0px;height:77.7px;background:#000;"></div>
<div class="b" style="left:183.3px;top:270.2px;width:89.5px;height:12.8px;background:#fff;"></div>
<div class="b" style="left:183.3px;top:297.0px;width:74.5px;height:12.7px;background:#fff;"></div>
<div class="b" style="left:183.3px;top:324.0px;width:77.0px;height:12.4px;background:#fff;"></div>
<div class="b" style="left:183.3px;top:351.0px;width:39.7px;height:14.3px;background:#fff;"></div>
<div class="b" style="left:183.3px;top:378.0px;width:39.7px;height:15.0px;background:#fff;"></div>
<div class="b" style="left:96.0px;top:403.0px;width:158.0px;height:15.6px;background:#fff;"></div>
<div class="b" style="left:287.0px;top:270.2px;width:46.6px;height:12.8px;background:#fff;"></div>
<div class="b" style="left:287.0px;top:297.0px;width:54.6px;height:12.7px;background:#fff;"></div>
<div class="b" style="left:287.0px;top:324.0px;width:46.6px;height:12.4px;background:#fff;"></div>
<div class="b" style="left:287.0px;top:352.0px;width:46.6px;height:12.0px;background:#fff;"></div>
<div class="b" style="left:287.0px;top:378.8px;width:48.0px;height:11.7px;background:#fff;"></div>
<div class="b" style="left:287.0px;top:403.5px;width:54.6px;height:11.5px;background:#fff;"></div>
<div class="b" style="left:123.3px;top:448.0px;width:49.0px;height:16.0px;background:#fff;"></div>
<div class="b" style="left:123.3px;top:473.0px;width:49.0px;height:16.0px;background:#fff;"></div>
<div class="b" style="left:122.7px;top:497.3px;width:49.5px;height:15.7px;background:#fff;"></div>
<div class="b" style="left:122.7px;top:523.3px;width:65.3px;height:15.7px;background:#fff;"></div>
<div class="b" style="left:122.7px;top:549.3px;width:65.3px;height:14.5px;background:#fff;"></div>
<div class="b" style="left:4.6px;top:578.4px;width:173.8px;height:15.6px;background:#fff;"></div>
<span id="t1" class="t" style="left:7.0px;top:1.9px;font-size:10.5px;color:#0000ff;transform:scaleX(1.138);">Aktuelles Wetter, WD 10.37S101</span>
<span id="t2" class="t" style="left:3.0px;top:12.8px;font-size:12px;color:#000080;transform:scaleX(1.008);">Wind ø</span>
<span id="t3" class="t" style="left:3.0px;top:49.8px;font-size:12px;color:#000080;transform:scaleX(0.992);">Wind aktuell</span>
<span id="t4" class="t" style="left:3.0px;top:66.3px;font-size:12px;color:#000080;transform:scaleX(0.967);">Temperatur</span>
<span id="t5" class="t" style="left:3.0px;top:87.3px;font-size:12px;color:#000080;transform:scaleX(1.007);">Temp Rate</span>
<span id="t6" class="t" style="left:3.0px;top:109.9px;font-size:12px;color:#000080;transform:scaleX(0.968);">Luftdruck</span>
<span id="t7" class="t" style="left:3.0px;top:129.2px;font-size:12px;color:#000080;transform:scaleX(0.968);">Luftdruck</span>
<span id="t8" class="t" style="left:3.0px;top:142.2px;font-size:12px;color:#000080;transform:scaleX(1.026);">Tendenz</span>
<span id="t9" class="t" style="left:3.0px;top:161.0px;font-size:12px;color:#000080;transform:scaleX(0.995);">Luftfeuchte</span>
<span id="t10" class="t" style="left:3.0px;top:184.0px;font-size:12px;color:#000080;transform:scaleX(1.022);">Dew Pt Depr.</span>
<span id="t11" class="t" style="left:87.3px;top:16.8px;font-size:13.3px;color:#0000ff;transform:scaleX(1.016);">0.0 kmh</span>
<span id="t12" class="t" style="left:146.3px;top:16.3px;font-size:12px;color:#0000ff;transform:scaleX(1.006);">Solar:0W/m² UV:0.</span>
<span id="t13" class="t" style="left:87.3px;top:39.7px;font-size:13.3px;color:#0000ff;transform:scaleX(1.016);">0.0 kmh</span>
<span id="t14" class="t" style="left:87.0px;top:64.5px;font-size:13px;color:#ff0000;transform:scaleX(1.034);">3.1 °C</span>
<span id="t15" class="t" style="left:80.5px;top:87.3px;font-size:13px;color:#000070;transform:scaleX(1.053);">+0.1 °C /hr</span>
<span id="t16" class="t" style="left:80.5px;top:111.2px;font-size:13px;color:#0000ff;transform:scaleX(1.079);">1019.8 hPa</span>
<span id="t17" class="t" style="left:78.0px;top:135.6px;font-size:10.8px;color:#000070;transform:scaleX(1.149);">-0.0hPa/hr</span>
<span id="t18" class="t" style="left:84.0px;top:159.2px;font-size:13px;color:#0000ff;transform:scaleX(1.063);">95 %</span>
<span id="t19" class="t" style="left:84.0px;top:182.8px;font-size:13px;color:#0000ff;transform:scaleX(1.047);">0.7 °C</span>
<span id="t20" class="t" style="left:267.0px;top:8.4px;font-size:11.5px;color:#fff;font-weight:normal;transform:scaleX(0.890);">0,0 %07:57hrs</span>
<span id="t21" class="t" style="left:274.7px;top:29.0px;font-size:11.5px;color:#fff;font-weight:normal;transform:scaleX(0.877);">1,1 mm ET</span>
<span id="t22" class="t" style="left:298.2px;top:40.9px;font-size:12px;color:#000080;transform:scaleX(0.773);">N</span>
<span id="t23" class="t" style="left:259.0px;top:54.8px;font-size:12px;color:#000080;transform:scaleX(0.990);">NW</span>
<span id="t24" class="t" style="left:325.9px;top:54.8px;font-size:12px;color:#000080;transform:scaleX(0.900);">NO</span>
<span id="t25" class="t" style="left:254.5px;top:90.8px;font-size:12px;color:#000080;transform:scaleX(0.953);">W</span>
<span id="t26" class="t" style="left:340.8px;top:90.8px;font-size:12px;color:#000080;transform:scaleX(0.771);">O</span>
<span id="t27" class="t" style="left:258.0px;top:129.1px;font-size:12px;color:#000080;transform:scaleX(0.982);">SW</span>
<span id="t28" class="t" style="left:324.1px;top:129.1px;font-size:12px;color:#000080;transform:scaleX(0.859);">SO</span>
<span id="t29" class="t" style="left:299.0px;top:138.5px;font-size:12px;color:#000080;transform:scaleX(0.736);">S</span>
<span id="t30" class="t" style="left:258.0px;top:155.3px;font-size:13px;color:#0000ff;transform:scaleX(1.102);white-space:pre;">WNW&nbsp; 297 °</span>
<span id="t31" class="t" style="left:167.0px;top:182.7px;font-size:12px;color:#000080;transform:scaleX(0.985);">Wind chill</span>
<span id="t32" class="t" style="left:168.8px;top:205.2px;font-size:12px;color:#000080;transform:scaleX(0.977);">Taupunkt</span>
<span id="t33" class="t" style="left:168.0px;top:227.8px;font-size:12px;color:#000080;transform:scaleX(1.008);">Wet Bulb</span>
<span id="t34" class="t" style="left:260.0px;top:182.6px;font-size:13px;color:#0000ff;transform:scaleX(1.047);">3.1 °C</span>
<span id="t35" class="t" style="left:260.0px;top:205.2px;font-size:13px;color:#000080;transform:scaleX(1.047);">2.4 °C</span>
<span id="t36" class="t" style="left:260.0px;top:229.0px;font-size:13px;color:#0000ff;transform:scaleX(1.047);">2.8 °C</span>
<span id="t37" class="t" style="left:329.7px;top:208.5px;font-size:10.5px;color:#fff;font-weight:normal;">0,0</span>
<span id="t38" class="t" style="left:6.7px;top:255.0px;font-size:11px;color:#0000ff;transform:scaleX(1.110);">Extremwerte</span>
<span id="t39" class="t" style="left:127.0px;top:255.5px;font-size:11.5px;color:#bec7e2;font-weight:normal;transform:scaleX(0.940);">Werte rücksetzen 0hr</span>
<span id="t40" class="t" style="left:3.0px;top:272.3px;font-size:12px;color:#000080;transform:scaleX(0.967);">Maximum Boee (heute)</span>
<span id="t41" class="t" style="left:3.0px;top:299.2px;font-size:12px;color:#000080;transform:scaleX(0.980);">Maximum Boee (letzte Stunde)</span>
<span id="t42" class="t" style="left:3.0px;top:326.0px;font-size:12px;color:#000080;transform:scaleX(0.957);">Durchschnitt Maximumboee</span>
<span id="t43" class="t" style="left:3.0px;top:353.2px;font-size:12px;color:#000080;transform:scaleX(0.930);">Temperaturmaximum</span>
<span id="t44" class="t" style="left:3.0px;top:380.4px;font-size:12px;color:#000080;transform:scaleX(0.929);">Temperaturminimum</span>
<span id="t45" class="t" style="left:12.6px;top:399.3px;font-size:12px;color:#000080;font-weight:normal;transform:scaleX(0.834);">Maximum</span>
<span id="t46" class="t" style="left:11.5px;top:411.8px;font-size:12px;color:#000080;font-weight:normal;transform:scaleX(0.898);">Regen Rate</span>
<span id="t47" class="t" style="left:184.4px;top:270.9px;font-size:12px;color:#ff0000;transform:scaleX(1.018);">16.7 kmh WNW</span>
<span id="t48" class="t" style="left:184.4px;top:297.7px;font-size:12px;color:#0000ff;transform:scaleX(0.994);">0.0 kmh&nbsp; N</span>
<span id="t49" class="t" style="left:184.4px;top:324.7px;font-size:12px;color:#0000ff;transform:scaleX(1.032);">10.1 kmh&nbsp;&nbsp; W</span>
<span id="t50" class="t" style="left:184.4px;top:352.8px;font-size:13px;color:#ff0000;transform:scaleX(1.036);">8.1 °C</span>
<span id="t51" class="t" style="left:184.4px;top:380.2px;font-size:13px;color:#0000ff;transform:scaleX(1.036);">2.7 °C</span>
<span id="t52" class="t" style="left:97.0px;top:403.8px;font-size:14px;color:#0000ff;transform:scaleX(0.990);">0.0 mm/min (0.0 mm/hr)</span>
<span id="t53" class="t" style="left:289.8px;top:255.0px;font-size:11px;color:#0000ff;transform:scaleX(1.095);">Zeitpunkt</span>
<span id="t54" class="t" style="left:288.0px;top:270.9px;font-size:12px;color:#ff0000;transform:scaleX(0.981);">5:35 AM</span>
<span id="t55" class="t" style="left:288.0px;top:297.7px;font-size:12px;color:#0000ff;transform:scaleX(1.032);">11:00 PM</span>
<span id="t56" class="t" style="left:288.0px;top:324.7px;font-size:12px;color:#0000ff;transform:scaleX(0.981);">5:35 AM</span>
<span id="t57" class="t" style="left:288.0px;top:352.0px;font-size:12px;color:#ff0000;transform:scaleX(0.985);">2:44 PM</span>
<div class="b" style="left:287px;top:376px;width:48px;height:16px;overflow:hidden;background:none">
<span id="t58" class="t" style="left:1.0px;top:2.9px;font-size:12px;color:#0000ff;transform:scaleX(1.019);">10:34 PM</span>
</div>
<span id="t59" class="t" style="left:288.0px;top:403.5px;font-size:12px;color:#0000ff;transform:scaleX(1.014);">00:00 AM</span>
<span id="t60" class="t" style="left:6.7px;top:432.2px;font-size:11.5px;color:#0000ff;transform:scaleX(1.015);">Regenmenge</span>
<span id="t61" class="t" style="left:60.8px;top:433.3px;font-size:11.5px;color:#b9c6ef;font-weight:normal;transform:scaleX(0.924);">Werte rücksetzen 0 hr</span>
<span id="t62" class="t" style="left:3.8px;top:450.5px;font-size:12px;color:#000080;font-weight:normal;transform:scaleX(0.874);">letzte Stunde</span>
<span id="t63" class="t" style="left:3.0px;top:475.7px;font-size:12px;color:#000080;font-weight:normal;transform:scaleX(0.882);">Regenmenge heute</span>
<span id="t64" class="t" style="left:3.8px;top:499.8px;font-size:12px;color:#000080;font-weight:normal;transform:scaleX(0.877);">Regenmenge gestern</span>
<span id="t65" class="t" style="left:3.8px;top:524.8px;font-size:12px;color:#000080;font-weight:normal;transform:scaleX(0.884);">Regenmenge Monat</span>
<span id="t66" class="t" style="left:3.8px;top:549.8px;font-size:12px;color:#000080;font-weight:normal;transform:scaleX(0.872);">Regenmenge Jahr</span>
<span id="t67" class="t" style="left:4.6px;top:565.8px;font-size:12px;color:#000080;font-weight:normal;transform:scaleX(0.881);">Regenrate</span>
<span id="t68" class="t" style="left:124.5px;top:449.3px;font-size:14px;color:#0000ff;transform:scaleX(0.964);">0.0 mm</span>
<span id="t69" class="t" style="left:124.5px;top:473.6px;font-size:14px;color:#000080;transform:scaleX(0.964);">0.0 mm</span>
<span id="t70" class="t" style="left:124.0px;top:498.1px;font-size:14px;color:#0000ff;transform:scaleX(0.974);">8.6 mm</span>
<span id="t71" class="t" style="left:124.0px;top:524.2px;font-size:14px;color:#000080;transform:scaleX(0.987);">161.4 mm</span>
<span id="t72" class="t" style="left:124.0px;top:550.2px;font-size:14px;color:#0000ff;transform:scaleX(0.987);">568.8 mm</span>
<span id="t73" class="t" style="left:5.5px;top:579.1px;font-size:14px;color:#0000ff;">0.00 mm/min (0.00 mm/hr)</span>
<span id="t74" class="t dj" style="left:238.4px;top:532.9px;font-size:16.5px;color:#0c0c7c;transform:scaleX(1.031);">24/10/2020</span>
<span id="t75" class="t" style="left:232.6px;top:552.1px;font-size:13px;color:#00ff00;transform:scaleX(1.060);">23:10:02 PM</span>
<span id="t76" class="t sf" style="left:228.0px;top:572.4px;font-size:12.5px;color:#008080;font-weight:normal;transform:scaleX(0.838);">Daten erhalten</span>
<span id="t77" class="t sf" style="left:295.6px;top:571.7px;font-size:12.5px;color:#000080;font-weight:normal;transform:scaleX(0.795);">325422</span>
<span id="t78" class="t sf" style="left:324.0px;top:591.5px;font-size:12.5px;color:#000080;font-weight:normal;transform:scaleX(0.814);">Alarm</span>
<span id="t79" class="t" style="left:192.5px;top:487.9px;font-size:11px;color:#80602a;font-weight:normal;transform:scaleX(1.046);">0,0</span>
<span id="t80" class="t sf" style="left:355.3px;top:2.8px;font-size:12.5px;color:#ff0000;font-weight:normal;transform:scaleX(0.828);">Windstärke</span>
<span id="t81" class="t sf" style="left:434.8px;top:2.8px;font-size:12.5px;color:#ff0000;font-weight:normal;transform:scaleX(0.756);">0.0 kmh</span>
<span id="t82" class="t sf" style="left:469.7px;top:2.8px;font-size:12.5px;color:#0000ff;font-weight:normal;transform:scaleX(0.767);">Wind ø</span>
<span id="t83" class="t sf" style="left:514.3px;top:2.8px;font-size:12.5px;color:#0000ff;font-weight:normal;transform:scaleX(0.764);">0.0 kmh</span>
<span id="t84" class="t" style="left:549.5px;top:4.4px;font-size:10px;color:#e8eefc;font-weight:normal;transform:scaleX(0.859);">23:10</span>
<span id="t85" class="t sf" style="left:588.8px;top:2.8px;font-size:12.5px;color:#a00030;font-weight:normal;transform:scaleX(0.814);">Innen temp.</span>
<span id="t86" class="t sf" style="left:652.7px;top:2.8px;font-size:12.5px;color:#a00030;font-weight:normal;transform:scaleX(0.717);">15.2 °C</span>
<span id="t87" class="t sf" style="left:686.0px;top:2.8px;font-size:12.5px;color:#ff00ff;font-weight:normal;transform:scaleX(0.800);">Luftdruck</span>
<span id="t88" class="t sf" style="left:760.3px;top:2.8px;font-size:12.5px;color:#ff00ff;font-weight:normal;transform:scaleX(0.782);">1019.8 hPa</span>
<span id="t89" class="t sf" style="left:353.0px;top:351.1px;font-size:12.5px;color:#ff0000;font-weight:normal;transform:scaleX(0.827);">Regen</span>
<span id="t90" class="t sf" style="left:395.8px;top:351.1px;font-size:12.5px;color:#ff0000;font-weight:normal;transform:scaleX(0.775);">0.0 mm</span>
<span id="t91" class="t sf" style="left:428.3px;top:346.5px;font-size:12.5px;color:#0000ff;font-weight:normal;transform:scaleX(0.816);">Luftfeuchte&nbsp; 95 %</span>
<span id="t92" class="t sf" style="left:587.5px;top:356.2px;font-size:12.5px;color:#c9c4ae;font-weight:normal;transform:scaleX(0.827);">THSW</span>
<span id="t93" class="t sf" style="left:634.4px;top:356.2px;font-size:12.5px;color:#c9c4ae;font-weight:normal;transform:scaleX(0.808);">6.8°C</span>
<span id="t94" class="t sf" style="left:671.4px;top:347.2px;font-size:12.5px;color:#006400;font-weight:normal;transform:scaleX(0.846);">Temperatur</span>
<span id="t95" class="t sf" style="left:737.3px;top:347.2px;font-size:12.5px;color:#006400;font-weight:normal;transform:scaleX(0.784);">3.1°C</span>
<span id="t96" class="t sf" style="left:770.3px;top:351.5px;font-size:12.5px;color:#ff00ff;font-weight:normal;transform:scaleX(0.806);">Taupunkt</span>
<span id="t97" class="t sf" style="left:818.2px;top:351.5px;font-size:12.5px;color:#ff00ff;font-weight:normal;transform:scaleX(0.746);">2.4°C</span>
<span id="t98" class="t sf" style="left:808.6px;top:267.7px;font-size:12.5px;color:#ff0000;font-weight:normal;transform:scaleX(0.653);">N</span>
<span id="t99" class="t sf" style="left:808.6px;top:284.3px;font-size:12.5px;color:#ff0000;font-weight:normal;transform:scaleX(0.728);">W</span>
<span id="t100" class="t sf" style="left:808.6px;top:301.1px;font-size:12.5px;color:#ff0000;font-weight:normal;transform:scaleX(0.647);">S</span>
<span id="t101" class="t sf" style="left:808.6px;top:317.4px;font-size:12.5px;color:#ff0000;font-weight:normal;transform:scaleX(0.587);">O</span>
<span id="t102" class="t sf" style="left:808.6px;top:335.1px;font-size:12.5px;color:#ff0000;font-weight:normal;transform:scaleX(0.653);">N</span>
<span id="t103" class="t sf" style="left:821.0px;top:301.1px;font-size:12.5px;color:#ff0000;font-weight:normal;transform:scaleX(0.736);">297</span>
</div>
</body></html>
